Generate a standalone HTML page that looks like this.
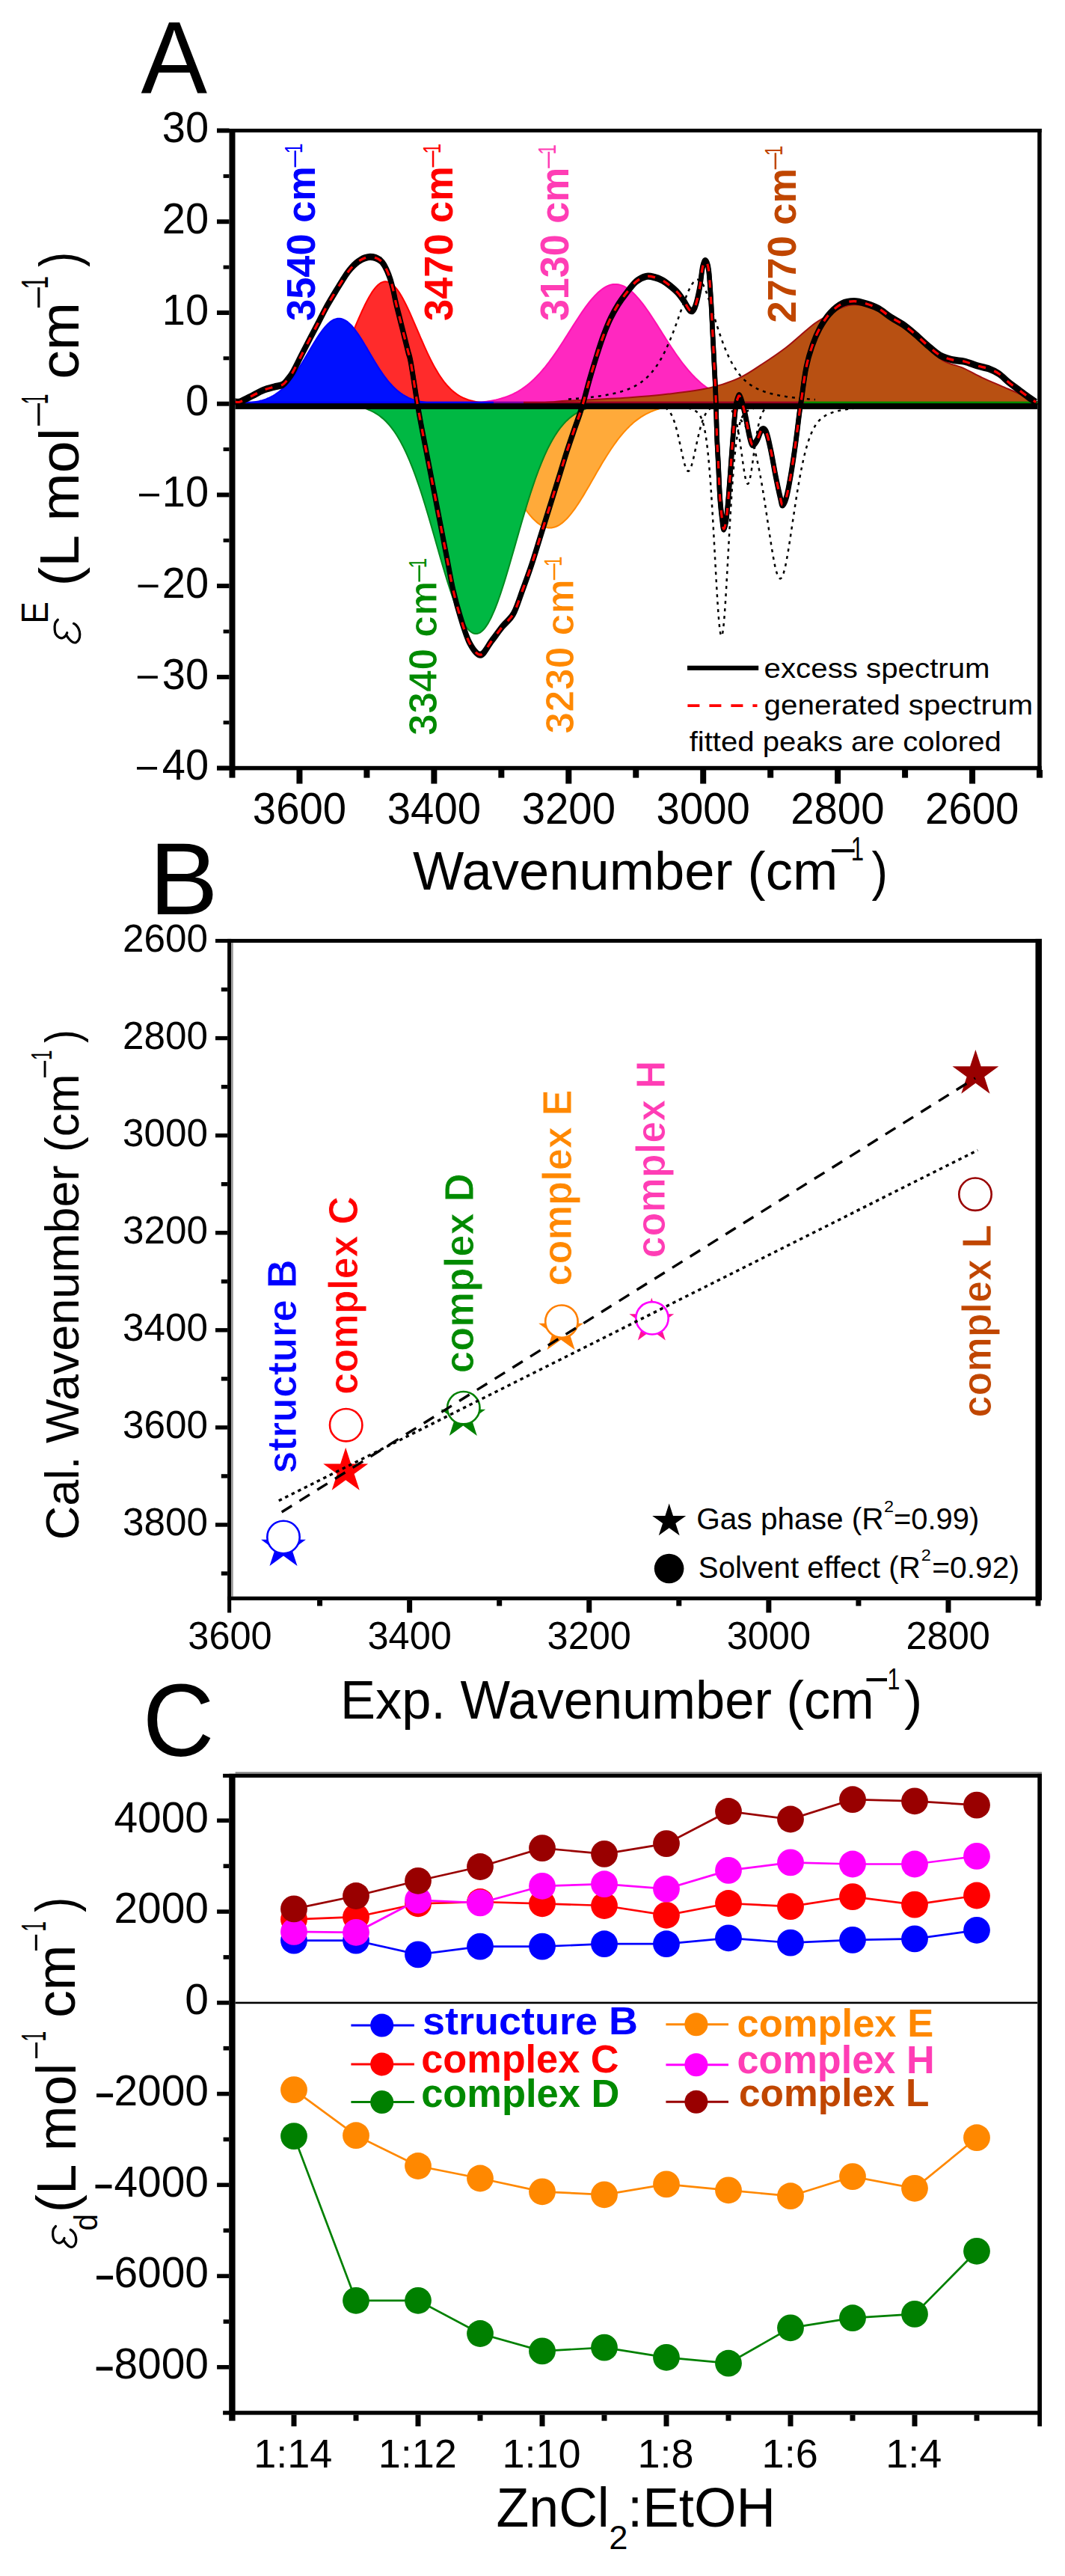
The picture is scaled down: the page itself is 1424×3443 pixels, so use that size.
<!DOCTYPE html>
<html><head><meta charset="utf-8"><style>
html,body{margin:0;padding:0;background:#fff;}
svg{display:block;}
text{font-family:"Liberation Sans",sans-serif;}
</style></head><body>
<svg width="1424" height="3443" viewBox="0 0 1424 3443">
<rect width="1424" height="3443" fill="#fff"/>
<path d="M560.00,539.68 L562.45,539.68 L564.90,539.68 L567.35,539.67 L569.80,539.67 L572.25,539.66 L574.70,539.66 L577.15,539.65 L579.60,539.64 L582.05,539.63 L584.50,539.62 L586.95,539.60 L589.40,539.59 L591.85,539.57 L594.30,539.55 L596.75,539.53 L599.20,539.50 L601.65,539.47 L604.10,539.43 L606.55,539.39 L609.00,539.34 L611.45,539.29 L613.90,539.23 L616.35,539.16 L618.80,539.08 L621.25,538.99 L623.70,538.90 L626.15,538.78 L628.60,538.66 L631.05,538.52 L633.50,538.36 L635.95,538.19 L638.40,537.99 L640.85,537.78 L643.30,537.53 L645.75,537.27 L648.20,536.97 L650.65,536.64 L653.10,536.28 L655.55,535.88 L658.00,535.44 L660.45,534.96 L662.90,534.44 L665.35,533.86 L667.80,533.23 L670.25,532.55 L672.70,531.80 L675.15,531.00 L677.60,530.12 L680.05,529.18 L682.50,528.16 L684.95,527.06 L687.40,525.87 L689.85,524.61 L692.30,523.25 L694.75,521.80 L697.20,520.25 L699.65,518.60 L702.10,516.85 L704.55,514.99 L707.00,513.02 L709.45,510.95 L711.90,508.76 L714.35,506.46 L716.80,504.04 L719.25,501.51 L721.70,498.87 L724.15,496.11 L726.60,493.24 L729.05,490.27 L731.50,487.18 L733.95,484.00 L736.40,480.71 L738.85,477.33 L741.30,473.86 L743.75,470.31 L746.20,466.69 L748.65,463.00 L751.10,459.25 L753.55,455.45 L756.00,451.62 L758.45,447.76 L760.90,443.88 L763.35,440.01 L765.80,436.14 L768.25,432.29 L770.70,428.47 L773.15,424.71 L775.60,421.01 L778.05,417.39 L780.50,413.85 L782.95,410.43 L785.40,407.12 L787.85,403.94 L790.30,400.92 L792.75,398.05 L795.20,395.35 L797.65,392.84 L800.10,390.52 L802.55,388.41 L805.00,386.52 L807.45,384.85 L809.90,383.41 L812.35,382.21 L814.80,381.26 L817.25,380.56 L819.70,380.10 L822.15,379.91 L824.60,379.97 L827.05,380.28 L829.50,380.85 L831.95,381.68 L834.40,382.74 L836.85,384.06 L839.30,385.60 L841.75,387.38 L844.20,389.38 L846.65,391.59 L849.10,393.99 L851.55,396.59 L854.00,399.37 L856.45,402.32 L858.90,405.42 L861.35,408.66 L863.80,412.02 L866.25,415.50 L868.70,419.08 L871.15,422.74 L873.60,426.47 L876.05,430.26 L878.50,434.09 L880.95,437.95 L883.40,441.83 L885.85,445.71 L888.30,449.58 L890.75,453.42 L893.20,457.24 L895.65,461.02 L898.10,464.74 L900.55,468.40 L903.00,471.99 L905.45,475.50 L907.90,478.93 L910.35,482.26 L912.80,485.50 L915.25,488.64 L917.70,491.68 L920.15,494.60 L922.60,497.42 L925.05,500.12 L927.50,502.71 L929.95,505.19 L932.40,507.55 L934.85,509.80 L937.30,511.94 L939.75,513.96 L942.20,515.87 L944.65,517.68 L947.10,519.39 L949.55,520.99 L952.00,522.49 L954.45,523.90 L956.90,525.21 L959.35,526.44 L961.80,527.58 L964.25,528.64 L966.70,529.63 L969.15,530.54 L971.60,531.38 L974.05,532.16 L976.50,532.88 L978.95,533.53 L981.40,534.14 L983.85,534.69 L986.30,535.19 L988.75,535.65 L991.20,536.07 L993.65,536.45 L996.10,536.80 L998.55,537.11 L1001.00,537.40 L1003.45,537.65 L1005.90,537.88 L1008.35,538.09 L1010.80,538.27 L1013.25,538.44 L1015.70,538.59 L1018.15,538.72 L1020.60,538.84 L1023.05,538.94 L1025.50,539.04 L1027.95,539.12 L1030.40,539.19 L1032.85,539.26 L1035.30,539.31 L1037.75,539.37 L1040.20,539.41 L1042.65,539.45 L1045.10,539.48 L1047.55,539.51 L1050.00,539.54 Z" fill="#FF28C0" stroke="#FF10B0" stroke-width="2"/>
<path d="M314.50,539.50 C375.42,539.42 605.75,539.67 680.00,539.00 C754.25,538.33 733.33,536.75 760.00,535.50 C786.67,534.25 817.68,532.98 840.00,531.50 C862.32,530.02 875.62,528.80 893.90,526.60 C912.18,524.40 933.85,521.92 949.70,518.30 C965.55,514.68 977.28,510.28 989.00,504.90 C1000.72,499.52 1009.83,492.62 1020.00,486.00 C1030.17,479.38 1041.72,471.42 1050.00,465.20 C1058.28,458.98 1063.13,454.18 1069.70,448.70 C1076.27,443.22 1083.37,436.68 1089.40,432.30 C1095.43,427.92 1100.42,425.68 1105.90,422.40 C1111.38,419.12 1116.83,415.07 1122.30,412.60 C1127.77,410.13 1132.68,408.15 1138.70,407.60 C1144.72,407.05 1151.28,407.37 1158.40,409.30 C1165.52,411.23 1173.18,414.82 1181.40,419.20 C1189.62,423.58 1198.93,429.03 1207.70,435.60 C1216.47,442.17 1225.23,450.93 1234.00,458.60 C1242.77,466.27 1251.53,476.13 1260.30,481.60 C1269.07,487.07 1277.83,487.57 1286.60,491.40 C1295.37,495.23 1304.13,500.48 1312.90,504.60 C1321.67,508.72 1330.43,512.27 1339.20,516.10 C1347.97,519.93 1358.93,524.03 1365.50,527.60 C1372.07,531.17 1375.02,535.52 1378.60,537.50 C1382.18,539.48 1385.60,539.17 1387.00,539.50 L1387,539.7 L314.5,539.7 Z" fill="#B85012" stroke="#A01010" stroke-width="2"/>
<path d="M330.00,539.69 L331.95,539.69 L333.90,539.68 L335.85,539.68 L337.80,539.68 L339.75,539.67 L341.70,539.66 L343.65,539.66 L345.60,539.65 L347.55,539.64 L349.50,539.63 L351.45,539.61 L353.40,539.59 L355.35,539.57 L357.30,539.55 L359.25,539.52 L361.20,539.49 L363.15,539.45 L365.10,539.41 L367.05,539.35 L369.00,539.29 L370.95,539.22 L372.90,539.14 L374.85,539.05 L376.80,538.94 L378.75,538.82 L380.70,538.68 L382.65,538.52 L384.60,538.34 L386.55,538.13 L388.50,537.90 L390.45,537.63 L392.40,537.33 L394.35,537.00 L396.30,536.62 L398.25,536.19 L400.20,535.72 L402.15,535.19 L404.10,534.60 L406.05,533.95 L408.00,533.23 L409.95,532.44 L411.90,531.56 L413.85,530.60 L415.80,529.54 L417.75,528.38 L419.70,527.13 L421.65,525.76 L423.60,524.27 L425.55,522.67 L427.50,520.93 L429.45,519.06 L431.40,517.06 L433.35,514.91 L435.30,512.62 L437.25,510.18 L439.20,507.58 L441.15,504.84 L443.10,501.93 L445.05,498.88 L447.00,495.66 L448.95,492.30 L450.90,488.79 L452.85,485.14 L454.80,481.34 L456.75,477.42 L458.70,473.37 L460.65,469.21 L462.60,464.95 L464.55,460.59 L466.50,456.17 L468.45,451.68 L470.40,447.14 L472.35,442.58 L474.30,438.02 L476.25,433.46 L478.20,428.93 L480.15,424.46 L482.10,420.06 L484.05,415.76 L486.00,411.57 L487.95,407.53 L489.90,403.64 L491.85,399.94 L493.80,396.45 L495.75,393.17 L497.70,390.15 L499.65,387.38 L501.60,384.89 L503.55,382.69 L505.50,380.80 L507.45,379.23 L509.40,377.99 L511.35,377.08 L513.30,376.52 L515.25,376.30 L517.20,376.43 L519.15,376.91 L521.10,377.73 L523.05,378.88 L525.00,380.37 L526.95,382.18 L528.90,384.30 L530.85,386.71 L532.80,389.41 L534.75,392.37 L536.70,395.59 L538.65,399.03 L540.60,402.68 L542.55,406.52 L544.50,410.52 L546.45,414.67 L548.40,418.95 L550.35,423.33 L552.30,427.78 L554.25,432.30 L556.20,436.85 L558.15,441.41 L560.10,445.98 L562.05,450.52 L564.00,455.02 L565.95,459.46 L567.90,463.84 L569.85,468.12 L571.80,472.31 L573.75,476.39 L575.70,480.35 L577.65,484.18 L579.60,487.87 L581.55,491.42 L583.50,494.82 L585.45,498.07 L587.40,501.16 L589.35,504.11 L591.30,506.89 L593.25,509.53 L595.20,512.01 L597.15,514.34 L599.10,516.52 L601.05,518.56 L603.00,520.46 L604.95,522.23 L606.90,523.87 L608.85,525.39 L610.80,526.79 L612.75,528.07 L614.70,529.25 L616.65,530.33 L618.60,531.32 L620.55,532.22 L622.50,533.03 L624.45,533.77 L626.40,534.44 L628.35,535.05 L630.30,535.59 L632.25,536.08 L634.20,536.51 L636.15,536.90 L638.10,537.25 L640.05,537.56 L642.00,537.83 L643.95,538.07 L645.90,538.29 L647.85,538.48 L649.80,538.64 L651.75,538.79 L653.70,538.91 L655.65,539.02 L657.60,539.12 L659.55,539.20 L661.50,539.28 L663.45,539.34 L665.40,539.39 L667.35,539.44 L669.30,539.48 L671.25,539.51 L673.20,539.54 L675.15,539.57 L677.10,539.59 L679.05,539.61 L681.00,539.62 L682.95,539.64 L684.90,539.65 L686.85,539.66 L688.80,539.66 L690.75,539.67 L692.70,539.67 L694.65,539.68 L696.60,539.68 L698.55,539.69 L700.50,539.69 L702.45,539.69 L704.40,539.69 L706.35,539.69 L708.30,539.69 L710.25,539.70 L712.20,539.70 L714.15,539.70 L716.10,539.70 L718.05,539.70 L720.00,539.70 Z" fill="#FF2B2B" stroke="#FF0000" stroke-width="2"/>
<path d="M314.50,539.37 L316.13,539.33 L317.75,539.27 L319.38,539.21 L321.01,539.14 L322.64,539.06 L324.26,538.98 L325.89,538.88 L327.52,538.77 L329.15,538.65 L330.77,538.51 L332.40,538.36 L334.03,538.19 L335.66,538.00 L337.29,537.79 L338.91,537.56 L340.54,537.30 L342.17,537.02 L343.80,536.71 L345.42,536.37 L347.05,536.00 L348.68,535.59 L350.31,535.15 L351.93,534.67 L353.56,534.14 L355.19,533.57 L356.81,532.95 L358.44,532.27 L360.07,531.55 L361.70,530.77 L363.32,529.93 L364.95,529.03 L366.58,528.06 L368.21,527.03 L369.83,525.93 L371.46,524.75 L373.09,523.50 L374.72,522.18 L376.35,520.78 L377.97,519.30 L379.60,517.74 L381.23,516.09 L382.86,514.37 L384.48,512.56 L386.11,510.67 L387.74,508.70 L389.37,506.65 L390.99,504.52 L392.62,502.32 L394.25,500.04 L395.88,497.69 L397.50,495.27 L399.13,492.79 L400.76,490.25 L402.38,487.65 L404.01,485.01 L405.64,482.33 L407.27,479.61 L408.89,476.86 L410.52,474.10 L412.15,471.32 L413.78,468.55 L415.40,465.77 L417.03,463.02 L418.66,460.29 L420.29,457.60 L421.92,454.95 L423.54,452.35 L425.17,449.83 L426.80,447.38 L428.43,445.01 L430.05,442.74 L431.68,440.58 L433.31,438.53 L434.94,436.61 L436.56,434.82 L438.19,433.17 L439.82,431.67 L441.44,430.32 L443.07,429.14 L444.70,428.13 L446.33,427.28 L447.96,426.62 L449.58,426.13 L451.21,425.82 L452.84,425.70 L454.47,425.76 L456.09,426.01 L457.72,426.44 L459.35,427.05 L460.98,427.83 L462.60,428.80 L464.23,429.92 L465.86,431.22 L467.49,432.67 L469.11,434.27 L470.74,436.02 L472.37,437.90 L474.00,439.91 L475.62,442.03 L477.25,444.27 L478.88,446.60 L480.50,449.03 L482.13,451.53 L483.76,454.10 L485.39,456.74 L487.01,459.42 L488.64,462.14 L490.27,464.88 L491.90,467.65 L493.52,470.43 L495.15,473.20 L496.78,475.97 L498.41,478.73 L500.03,481.45 L501.66,484.15 L503.29,486.80 L504.92,489.41 L506.54,491.97 L508.17,494.47 L509.80,496.91 L511.43,499.29 L513.06,501.59 L514.68,503.82 L516.31,505.97 L517.94,508.05 L519.57,510.05 L521.19,511.96 L522.82,513.79 L524.45,515.55 L526.08,517.21 L527.70,518.80 L529.33,520.31 L530.96,521.74 L532.59,523.08 L534.21,524.36 L535.84,525.56 L537.47,526.68 L539.10,527.74 L540.72,528.72 L542.35,529.65 L543.98,530.50 L545.61,531.30 L547.23,532.05 L548.86,532.73 L550.49,533.37 L552.12,533.96 L553.74,534.50 L555.37,535.00 L557.00,535.46 L558.62,535.87 L560.25,536.26 L561.88,536.61 L563.51,536.93 L565.13,537.22 L566.76,537.48 L568.39,537.72 L570.02,537.93 L571.64,538.13 L573.27,538.30 L574.90,538.46 L576.53,538.60 L578.15,538.73 L579.78,538.84 L581.41,538.95 L583.04,539.04 L584.66,539.12 L586.29,539.19 L587.92,539.25 L589.55,539.31 L591.17,539.36 L592.80,539.40 L594.43,539.44 L596.06,539.48 L597.68,539.51 L599.31,539.53 L600.94,539.55 L602.57,539.57 L604.19,539.59 L605.82,539.61 L607.45,539.62 L609.08,539.63 L610.70,539.64 L612.33,539.65 L613.96,539.66 L615.59,539.66 L617.21,539.67 L618.84,539.67 L620.47,539.68 L622.10,539.68 L623.73,539.68 L625.35,539.69 L626.98,539.69 L628.61,539.69 L630.24,539.69 L631.86,539.69 L633.49,539.69 L635.12,539.70 L636.75,539.70 L638.37,539.70 L640.00,539.70 Z" fill="#0010FF" stroke="#0000FF" stroke-width="2"/>
<path d="M540.00,540.23 L542.10,540.30 L544.20,540.38 L546.30,540.46 L548.40,540.56 L550.50,540.66 L552.60,540.78 L554.70,540.92 L556.80,541.06 L558.90,541.22 L561.00,541.40 L563.10,541.60 L565.20,541.82 L567.30,542.06 L569.40,542.32 L571.50,542.61 L573.60,542.92 L575.70,543.27 L577.80,543.64 L579.90,544.06 L582.00,544.50 L584.10,544.99 L586.20,545.52 L588.30,546.09 L590.40,546.70 L592.50,547.37 L594.60,548.09 L596.70,548.87 L598.80,549.70 L600.90,550.60 L603.00,551.56 L605.10,552.58 L607.20,553.68 L609.30,554.85 L611.40,556.10 L613.50,557.43 L615.60,558.83 L617.70,560.33 L619.80,561.91 L621.90,563.57 L624.00,565.33 L626.10,567.19 L628.20,569.13 L630.30,571.18 L632.40,573.32 L634.50,575.56 L636.60,577.89 L638.70,580.33 L640.80,582.86 L642.90,585.49 L645.00,588.22 L647.10,591.04 L649.20,593.95 L651.30,596.95 L653.40,600.04 L655.50,603.20 L657.60,606.45 L659.70,609.77 L661.80,613.15 L663.90,616.60 L666.00,620.10 L668.10,623.65 L670.20,627.24 L672.30,630.86 L674.40,634.51 L676.50,638.17 L678.60,641.83 L680.70,645.50 L682.80,649.14 L684.90,652.77 L687.00,656.35 L689.10,659.89 L691.20,663.38 L693.30,666.80 L695.40,670.13 L697.50,673.38 L699.60,676.53 L701.70,679.56 L703.80,682.47 L705.90,685.25 L708.00,687.89 L710.10,690.37 L712.20,692.69 L714.30,694.84 L716.40,696.81 L718.50,698.60 L720.60,700.19 L722.70,701.58 L724.80,702.77 L726.90,703.75 L729.00,704.51 L731.10,705.06 L733.20,705.39 L735.30,705.50 L737.40,705.39 L739.50,705.06 L741.60,704.51 L743.70,703.75 L745.80,702.77 L747.90,701.58 L750.00,700.19 L752.10,698.60 L754.20,696.81 L756.30,694.84 L758.40,692.69 L760.50,690.37 L762.60,687.89 L764.70,685.25 L766.80,682.47 L768.90,679.56 L771.00,676.53 L773.10,673.38 L775.20,670.13 L777.30,666.80 L779.40,663.38 L781.50,659.89 L783.60,656.35 L785.70,652.77 L787.80,649.14 L789.90,645.50 L792.00,641.83 L794.10,638.17 L796.20,634.51 L798.30,630.86 L800.40,627.24 L802.50,623.65 L804.60,620.10 L806.70,616.60 L808.80,613.15 L810.90,609.77 L813.00,606.45 L815.10,603.20 L817.20,600.04 L819.30,596.95 L821.40,593.95 L823.50,591.04 L825.60,588.22 L827.70,585.49 L829.80,582.86 L831.90,580.33 L834.00,577.89 L836.10,575.56 L838.20,573.32 L840.30,571.18 L842.40,569.13 L844.50,567.19 L846.60,565.33 L848.70,563.57 L850.80,561.91 L852.90,560.33 L855.00,558.83 L857.10,557.43 L859.20,556.10 L861.30,554.85 L863.40,553.68 L865.50,552.58 L867.60,551.56 L869.70,550.60 L871.80,549.70 L873.90,548.87 L876.00,548.09 L878.10,547.37 L880.20,546.70 L882.30,546.09 L884.40,545.52 L886.50,544.99 L888.60,544.50 L890.70,544.06 L892.80,543.64 L894.90,543.27 L897.00,542.92 L899.10,542.61 L901.20,542.32 L903.30,542.06 L905.40,541.82 L907.50,541.60 L909.60,541.40 L911.70,541.22 L913.80,541.06 L915.90,540.92 L918.00,540.78 L920.10,540.66 L922.20,540.56 L924.30,540.46 L926.40,540.38 L928.50,540.30 L930.60,540.23 L932.70,540.17 L934.80,540.11 L936.90,540.06 L939.00,540.02 L941.10,539.98 L943.20,539.95 L945.30,539.92 L947.40,539.89 L949.50,539.86 L951.60,539.84 L953.70,539.83 L955.80,539.81 L957.90,539.79 L960.00,539.78 Z" fill="#FFAA3A" stroke="#FF8800" stroke-width="2"/>
<path d="M430.00,539.86 L432.10,539.89 L434.20,539.92 L436.30,539.95 L438.40,539.99 L440.50,540.04 L442.60,540.09 L444.70,540.15 L446.80,540.22 L448.90,540.30 L451.00,540.39 L453.10,540.49 L455.20,540.61 L457.30,540.74 L459.40,540.89 L461.50,541.05 L463.60,541.24 L465.70,541.45 L467.80,541.69 L469.90,541.95 L472.00,542.25 L474.10,542.58 L476.20,542.95 L478.30,543.35 L480.40,543.81 L482.50,544.31 L484.60,544.86 L486.70,545.48 L488.80,546.16 L490.90,546.90 L493.00,547.72 L495.10,548.61 L497.20,549.60 L499.30,550.67 L501.40,551.84 L503.50,553.11 L505.60,554.49 L507.70,556.00 L509.80,557.62 L511.90,559.38 L514.00,561.27 L516.10,563.31 L518.20,565.51 L520.30,567.86 L522.40,570.38 L524.50,573.07 L526.60,575.94 L528.70,579.00 L530.80,582.25 L532.90,585.70 L535.00,589.34 L537.10,593.20 L539.20,597.26 L541.30,601.53 L543.40,606.02 L545.50,610.72 L547.60,615.63 L549.70,620.76 L551.80,626.10 L553.90,631.65 L556.00,637.40 L558.10,643.34 L560.20,649.48 L562.30,655.80 L564.40,662.29 L566.50,668.95 L568.60,675.75 L570.70,682.68 L572.80,689.73 L574.90,696.89 L577.00,704.13 L579.10,711.43 L581.20,718.78 L583.30,726.15 L585.40,733.52 L587.50,740.86 L589.60,748.16 L591.70,755.39 L593.80,762.51 L595.90,769.52 L598.00,776.37 L600.10,783.05 L602.20,789.52 L604.30,795.76 L606.40,801.75 L608.50,807.47 L610.60,812.87 L612.70,817.96 L614.80,822.69 L616.90,827.06 L619.00,831.03 L621.10,834.60 L623.20,837.75 L625.30,840.46 L627.40,842.72 L629.50,844.52 L631.60,845.85 L633.70,846.70 L635.80,847.08 L637.90,846.98 L640.00,846.39 L642.10,845.33 L644.20,843.80 L646.30,841.80 L648.40,839.35 L650.50,836.45 L652.60,833.12 L654.70,829.38 L656.80,825.23 L658.90,820.71 L661.00,815.82 L663.10,810.60 L665.20,805.05 L667.30,799.22 L669.40,793.12 L671.50,786.77 L673.60,780.21 L675.70,773.45 L677.80,766.53 L679.90,759.47 L682.00,752.30 L684.10,745.04 L686.20,737.72 L688.30,730.36 L690.40,722.99 L692.50,715.62 L694.60,708.29 L696.70,701.02 L698.80,693.81 L700.90,686.70 L703.00,679.69 L705.10,672.81 L707.20,666.08 L709.30,659.49 L711.40,653.07 L713.50,646.83 L715.60,640.77 L717.70,634.91 L719.80,629.24 L721.90,623.78 L724.00,618.54 L726.10,613.50 L728.20,608.68 L730.30,604.07 L732.40,599.67 L734.50,595.49 L736.60,591.52 L738.70,587.75 L740.80,584.19 L742.90,580.83 L745.00,577.67 L747.10,574.69 L749.20,571.90 L751.30,569.28 L753.40,566.83 L755.50,564.55 L757.60,562.42 L759.70,560.44 L761.80,558.61 L763.90,556.91 L766.00,555.34 L768.10,553.89 L770.20,552.55 L772.30,551.32 L774.40,550.20 L776.50,549.16 L778.60,548.22 L780.70,547.36 L782.80,546.57 L784.90,545.86 L787.00,545.21 L789.10,544.62 L791.20,544.09 L793.30,543.61 L795.40,543.17 L797.50,542.78 L799.60,542.43 L801.70,542.12 L803.80,541.84 L805.90,541.58 L808.00,541.36 L810.10,541.16 L812.20,540.98 L814.30,540.82 L816.40,540.68 L818.50,540.56 L820.60,540.45 L822.70,540.35 L824.80,540.27 L826.90,540.19 L829.00,540.13 L831.10,540.07 L833.20,540.02 L835.30,539.98 L837.40,539.94 L839.50,539.90 L841.60,539.88 L843.70,539.85 L845.80,539.83 L847.90,539.81 L850.00,539.79 Z" fill="#00B843" stroke="#008A20" stroke-width="2"/>
<path d="M760.00,533.59 L761.10,533.51 L762.20,533.44 L763.30,533.36 L764.40,533.28 L765.50,533.20 L766.60,533.12 L767.70,533.03 L768.80,532.95 L769.90,532.86 L771.00,532.77 L772.10,532.68 L773.20,532.59 L774.30,532.50 L775.40,532.40 L776.50,532.31 L777.60,532.21 L778.70,532.11 L779.80,532.00 L780.90,531.90 L782.00,531.79 L783.10,531.68 L784.20,531.57 L785.30,531.45 L786.40,531.34 L787.50,531.22 L788.60,531.10 L789.70,530.97 L790.80,530.85 L791.90,530.72 L793.00,530.58 L794.10,530.45 L795.20,530.31 L796.30,530.17 L797.40,530.03 L798.50,529.88 L799.60,529.73 L800.70,529.57 L801.80,529.41 L802.90,529.25 L804.00,529.09 L805.10,528.92 L806.20,528.74 L807.30,528.56 L808.40,528.38 L809.50,528.19 L810.60,528.00 L811.70,527.80 L812.80,527.60 L813.90,527.39 L815.00,527.18 L816.10,526.96 L817.20,526.74 L818.30,526.51 L819.40,526.27 L820.50,526.02 L821.60,525.77 L822.70,525.51 L823.80,525.25 L824.90,524.97 L826.00,524.69 L827.10,524.40 L828.20,524.10 L829.30,523.79 L830.40,523.47 L831.50,523.14 L832.60,522.80 L833.70,522.44 L834.80,522.08 L835.90,521.70 L837.00,521.31 L838.10,520.91 L839.20,520.49 L840.30,520.06 L841.40,519.61 L842.50,519.14 L843.60,518.66 L844.70,518.16 L845.80,517.64 L846.90,517.10 L848.00,516.54 L849.10,515.96 L850.20,515.36 L851.30,514.73 L852.40,514.08 L853.50,513.40 L854.60,512.70 L855.70,511.97 L856.80,511.21 L857.90,510.42 L859.00,509.59 L860.10,508.74 L861.20,507.85 L862.30,506.92 L863.40,505.96 L864.50,504.96 L865.60,503.92 L866.70,502.84 L867.80,501.71 L868.90,500.55 L870.00,499.33 L871.10,498.07 L872.20,496.77 L873.30,495.41 L874.40,494.00 L875.50,492.54 L876.60,491.03 L877.70,489.46 L878.80,487.83 L879.90,486.15 L881.00,484.40 L882.10,482.60 L883.20,480.74 L884.30,478.81 L885.40,476.82 L886.50,474.77 L887.60,472.65 L888.70,470.46 L889.80,468.22 L890.90,465.90 L892.00,463.52 L893.10,461.08 L894.20,458.57 L895.30,455.99 L896.40,453.36 L897.50,450.66 L898.60,447.90 L899.70,445.09 L900.80,442.22 L901.90,439.30 L903.00,436.34 L904.10,433.33 L905.20,430.29 L906.30,427.21 L907.40,424.12 L908.50,421.01 L909.60,417.89 L910.70,414.77 L911.80,411.66 L912.90,408.59 L914.00,405.54 L915.10,402.55 L916.20,399.62 L917.30,396.77 L918.40,394.01 L919.50,391.36 L920.60,388.84 L921.70,386.46 L922.80,384.24 L923.90,382.20 L925.00,380.34 L926.10,378.69 L927.20,377.26 L928.30,376.05 L929.40,375.09 L930.50,374.37 L931.60,373.91 L932.70,373.71 L933.80,373.79 L934.90,374.21 L936.00,374.98 L937.10,376.07 L938.20,377.48 L939.30,379.20 L940.40,381.20 L941.50,383.45 L942.60,385.95 L943.70,388.67 L944.80,391.57 L945.90,394.64 L947.00,397.85 L948.10,401.18 L949.20,404.60 L950.30,408.09 L951.40,411.63 L952.50,415.21 L953.60,418.80 L954.70,422.39 L955.80,425.96 L956.90,429.51 L958.00,433.02 L959.10,436.48 L960.20,439.89 L961.30,443.24 L962.40,446.51 L963.50,449.71 L964.60,452.84 L965.70,455.88 L966.80,458.85 L967.90,461.72 L969.00,464.51 L970.10,467.22 L971.20,469.83 L972.30,472.36 L973.40,474.81 L974.50,477.16 L975.60,479.44 L976.70,481.63 L977.80,483.73 L978.90,485.76 L980.00,487.71 L981.10,489.58 L982.20,491.38 L983.30,493.11 L984.40,494.76 L985.50,496.35 L986.60,497.87 L987.70,499.32 L988.80,500.71 L989.90,502.05 L991.00,503.32 L992.10,504.54 L993.20,505.71 L994.30,506.82 L995.40,507.89 L996.50,508.91 L997.60,509.89 L998.70,510.82 L999.80,511.71 L1000.90,512.56 L1002.00,513.38 L1003.10,514.15 L1004.20,514.90 L1005.30,515.61 L1006.40,516.29 L1007.50,516.95 L1008.60,517.57 L1009.70,518.17 L1010.80,518.75 L1011.90,519.30 L1013.00,519.82 L1014.10,520.33 L1015.20,520.82 L1016.30,521.28 L1017.40,521.73 L1018.50,522.17 L1019.60,522.58 L1020.70,522.98 L1021.80,523.37 L1022.90,523.74 L1024.00,524.10 L1025.10,524.44 L1026.20,524.77 L1027.30,525.10 L1028.40,525.41 L1029.50,525.71 L1030.60,526.00 L1031.70,526.28 L1032.80,526.55 L1033.90,526.82 L1035.00,527.07 L1036.10,527.32 L1037.20,527.56 L1038.30,527.80 L1039.40,528.02 L1040.50,528.24 L1041.60,528.46 L1042.70,528.66 L1043.80,528.87 L1044.90,529.06 L1046.00,529.25 L1047.10,529.44 L1048.20,529.62 L1049.30,529.80 L1050.40,529.97 L1051.50,530.14 L1052.60,530.30 L1053.70,530.46 L1054.80,530.62 L1055.90,530.77 L1057.00,530.91 L1058.10,531.06 L1059.20,531.20 L1060.30,531.34 L1061.40,531.47 L1062.50,531.60 L1063.60,531.73 L1064.70,531.85 L1065.80,531.98 L1066.90,532.10 L1068.00,532.21 L1069.10,532.33 L1070.20,532.44 L1071.30,532.55 L1072.40,532.65 L1073.50,532.76 L1074.60,532.86 L1075.70,532.96 L1076.80,533.06 L1077.90,533.15 L1079.00,533.25 L1080.10,533.34 L1081.20,533.43 L1082.30,533.51 L1083.40,533.60 L1084.50,533.68 L1085.60,533.77 L1086.70,533.85 L1087.80,533.93 L1088.90,534.00 L1090.00,534.08" fill="none" stroke="#000" stroke-width="2.5" stroke-dasharray="4,6"/>
<path d="M880.00,542.33 L880.27,542.36 L880.53,542.40 L880.80,542.44 L881.07,542.49 L881.33,542.53 L881.60,542.57 L881.87,542.62 L882.13,542.67 L882.40,542.72 L882.67,542.77 L882.93,542.82 L883.20,542.88 L883.47,542.93 L883.73,542.99 L884.00,543.05 L884.27,543.12 L884.53,543.18 L884.80,543.25 L885.07,543.32 L885.33,543.40 L885.60,543.47 L885.87,543.56 L886.13,543.64 L886.40,543.73 L886.67,543.82 L886.93,543.91 L887.20,544.01 L887.47,544.12 L887.73,544.22 L888.00,544.34 L888.27,544.45 L888.53,544.58 L888.80,544.71 L889.07,544.84 L889.33,544.98 L889.60,545.13 L889.87,545.28 L890.13,545.44 L890.40,545.60 L890.67,545.78 L890.93,545.96 L891.20,546.15 L891.47,546.34 L891.73,546.55 L892.00,546.76 L892.27,546.99 L892.53,547.22 L892.80,547.46 L893.07,547.72 L893.33,547.98 L893.60,548.26 L893.87,548.55 L894.13,548.84 L894.40,549.16 L894.67,549.48 L894.93,549.82 L895.20,550.17 L895.47,550.53 L895.73,550.91 L896.00,551.30 L896.27,551.71 L896.53,552.13 L896.80,552.57 L897.07,553.02 L897.33,553.49 L897.60,553.98 L897.87,554.48 L898.13,555.01 L898.40,555.55 L898.67,556.10 L898.93,556.68 L899.20,557.28 L899.47,557.89 L899.73,558.52 L900.00,559.18 L900.27,559.85 L900.53,560.54 L900.80,561.25 L901.07,561.98 L901.33,562.74 L901.60,563.51 L901.87,564.30 L902.13,565.12 L902.40,565.95 L902.67,566.81 L902.93,567.68 L903.20,568.58 L903.47,569.49 L903.73,570.43 L904.00,571.38 L904.27,572.36 L904.53,573.35 L904.80,574.37 L905.07,575.40 L905.33,576.45 L905.60,577.52 L905.87,578.60 L906.13,579.70 L906.40,580.82 L906.67,581.95 L906.93,583.10 L907.20,584.26 L907.47,585.44 L907.73,586.62 L908.00,587.82 L908.27,589.03 L908.53,590.25 L908.80,591.47 L909.07,592.70 L909.33,593.94 L909.60,595.19 L909.87,596.44 L910.13,597.69 L910.40,598.94 L910.67,600.19 L910.93,601.43 L911.20,602.68 L911.47,603.92 L911.73,605.15 L912.00,606.37 L912.27,607.59 L912.53,608.79 L912.80,609.98 L913.07,611.15 L913.33,612.30 L913.60,613.44 L913.87,614.55 L914.13,615.64 L914.40,616.71 L914.67,617.74 L914.93,618.75 L915.20,619.72 L915.47,620.66 L915.73,621.57 L916.00,622.44 L916.27,623.26 L916.53,624.05 L916.80,624.79 L917.07,625.48 L917.33,626.13 L917.60,626.73 L917.87,627.27 L918.13,627.77 L918.40,628.21 L918.67,628.59 L918.93,628.92 L919.20,629.20 L919.47,629.41 L919.73,629.57 L920.00,629.66 L920.27,629.70 L920.53,629.68 L920.80,629.60 L921.07,629.45 L921.33,629.26 L921.60,629.00 L921.87,628.68 L922.13,628.31 L922.40,627.88 L922.67,627.40 L922.93,626.87 L923.20,626.28 L923.47,625.65 L923.73,624.97 L924.00,624.24 L924.27,623.46 L924.53,622.65 L924.80,621.79 L925.07,620.89 L925.33,619.96 L925.60,619.00 L925.87,618.00 L926.13,616.97 L926.40,615.91 L926.67,614.83 L926.93,613.72 L927.20,612.59 L927.47,611.44 L927.73,610.27 L928.00,609.09 L928.27,607.89 L928.53,606.68 L928.80,605.46 L929.07,604.23 L929.33,602.99 L929.60,601.75 L929.87,600.50 L930.13,599.25 L930.40,598.00 L930.67,596.75 L930.93,595.50 L931.20,594.25 L931.47,593.01 L931.73,591.78 L932.00,590.55 L932.27,589.33 L932.53,588.12 L932.80,586.92 L933.07,585.73 L933.33,584.55 L933.60,583.39 L933.87,582.24 L934.13,581.10 L934.40,579.98 L934.67,578.88 L934.93,577.79 L935.20,576.71 L935.47,575.66 L935.73,574.62 L936.00,573.61 L936.27,572.61 L936.53,571.63 L936.80,570.67 L937.07,569.73 L937.33,568.80 L937.60,567.90 L937.87,567.02 L938.13,566.16 L938.40,565.32 L938.67,564.50 L938.93,563.71 L939.20,562.93 L939.47,562.17 L939.73,561.43 L940.00,560.72 L940.27,560.02 L940.53,559.34 L940.80,558.68 L941.07,558.05 L941.33,557.43 L941.60,556.83 L941.87,556.25 L942.13,555.68 L942.40,555.14 L942.67,554.61 L942.93,554.10 L943.20,553.61 L943.47,553.14 L943.73,552.68 L944.00,552.24 L944.27,551.81 L944.53,551.40 L944.80,551.00 L945.07,550.62 L945.33,550.26 L945.60,549.90 L945.87,549.56 L946.13,549.24 L946.40,548.92 L946.67,548.62 L946.93,548.33 L947.20,548.05 L947.47,547.78 L947.73,547.53 L948.00,547.28 L948.27,547.05 L948.53,546.82 L948.80,546.60 L949.07,546.39 L949.33,546.19 L949.60,546.00 L949.87,545.82 L950.13,545.65 L950.40,545.48 L950.67,545.32 L950.93,545.16 L951.20,545.02 L951.47,544.87 L951.73,544.74 L952.00,544.61 L952.27,544.48 L952.53,544.37 L952.80,544.25 L953.07,544.14 L953.33,544.04 L953.60,543.94 L953.87,543.84 L954.13,543.75 L954.40,543.66 L954.67,543.58 L954.93,543.49 L955.20,543.42 L955.47,543.34 L955.73,543.27 L956.00,543.20 L956.27,543.13 L956.53,543.07 L956.80,543.01 L957.07,542.95 L957.33,542.89 L957.60,542.83 L957.87,542.78 L958.13,542.73 L958.40,542.68 L958.67,542.63 L958.93,542.58 L959.20,542.54 L959.47,542.50 L959.73,542.45 L960.00,542.41" fill="none" stroke="#000" stroke-width="2.5" stroke-dasharray="4,6"/>
<path d="M920.00,545.49 L920.30,545.56 L920.60,545.64 L920.90,545.71 L921.20,545.79 L921.50,545.87 L921.80,545.96 L922.10,546.04 L922.40,546.13 L922.70,546.22 L923.00,546.31 L923.30,546.40 L923.60,546.49 L923.90,546.59 L924.20,546.69 L924.50,546.79 L924.80,546.89 L925.10,547.00 L925.40,547.11 L925.70,547.22 L926.00,547.34 L926.30,547.46 L926.60,547.58 L926.90,547.71 L927.20,547.84 L927.50,547.98 L927.80,548.12 L928.10,548.26 L928.40,548.41 L928.70,548.57 L929.00,548.73 L929.30,548.89 L929.60,549.07 L929.90,549.25 L930.20,549.44 L930.50,549.63 L930.80,549.84 L931.10,550.05 L931.40,550.27 L931.70,550.51 L932.00,550.75 L932.30,551.01 L932.60,551.27 L932.90,551.55 L933.20,551.85 L933.50,552.16 L933.80,552.49 L934.10,552.83 L934.40,553.19 L934.70,553.57 L935.00,553.97 L935.30,554.40 L935.60,554.85 L935.90,555.32 L936.20,555.82 L936.50,556.34 L936.80,556.90 L937.10,557.48 L937.40,558.10 L937.70,558.76 L938.00,559.45 L938.30,560.18 L938.60,560.95 L938.90,561.77 L939.20,562.63 L939.50,563.54 L939.80,564.50 L940.10,565.51 L940.40,566.58 L940.70,567.70 L941.00,568.89 L941.30,570.14 L941.60,571.45 L941.90,572.83 L942.20,574.29 L942.50,575.82 L942.80,577.42 L943.10,579.10 L943.40,580.87 L943.70,582.72 L944.00,584.66 L944.30,586.69 L944.60,588.81 L944.90,591.03 L945.20,593.34 L945.50,595.76 L945.80,598.27 L946.10,600.90 L946.40,603.62 L946.70,606.46 L947.00,609.40 L947.30,612.46 L947.60,615.63 L947.90,618.91 L948.20,622.30 L948.50,625.81 L948.80,629.43 L949.10,633.17 L949.40,637.02 L949.70,640.99 L950.00,645.06 L950.30,649.25 L950.60,653.54 L950.90,657.95 L951.20,662.45 L951.50,667.06 L951.80,671.77 L952.10,676.57 L952.40,681.46 L952.70,686.43 L953.00,691.49 L953.30,696.62 L953.60,701.82 L953.90,707.08 L954.20,712.40 L954.50,717.77 L954.80,723.18 L955.10,728.62 L955.40,734.09 L955.70,739.57 L956.00,745.05 L956.30,750.53 L956.60,756.00 L956.90,761.43 L957.20,766.83 L957.50,772.18 L957.80,777.47 L958.10,782.68 L958.40,787.80 L958.70,792.81 L959.00,797.71 L959.30,802.48 L959.60,807.11 L959.90,811.57 L960.20,815.86 L960.50,819.95 L960.80,823.85 L961.10,827.52 L961.40,830.96 L961.70,834.16 L962.00,837.09 L962.30,839.75 L962.60,842.13 L962.90,844.21 L963.20,845.99 L963.50,847.46 L963.80,848.61 L964.10,849.44 L964.40,849.93 L964.70,850.10 L965.00,849.93 L965.30,849.44 L965.60,848.61 L965.90,847.46 L966.20,845.99 L966.50,844.21 L966.80,842.13 L967.10,839.75 L967.40,837.09 L967.70,834.16 L968.00,830.96 L968.30,827.52 L968.60,823.85 L968.90,819.95 L969.20,815.86 L969.50,811.57 L969.80,807.11 L970.10,802.48 L970.40,797.71 L970.70,792.81 L971.00,787.80 L971.30,782.68 L971.60,777.47 L971.90,772.18 L972.20,766.83 L972.50,761.43 L972.80,756.00 L973.10,750.53 L973.40,745.05 L973.70,739.57 L974.00,734.09 L974.30,728.62 L974.60,723.18 L974.90,717.77 L975.20,712.40 L975.50,707.08 L975.80,701.82 L976.10,696.62 L976.40,691.49 L976.70,686.43 L977.00,681.46 L977.30,676.57 L977.60,671.77 L977.90,667.06 L978.20,662.45 L978.50,657.95 L978.80,653.54 L979.10,649.25 L979.40,645.06 L979.70,640.99 L980.00,637.02 L980.30,633.17 L980.60,629.43 L980.90,625.81 L981.20,622.30 L981.50,618.91 L981.80,615.63 L982.10,612.46 L982.40,609.40 L982.70,606.46 L983.00,603.62 L983.30,600.90 L983.60,598.27 L983.90,595.76 L984.20,593.34 L984.50,591.03 L984.80,588.81 L985.10,586.69 L985.40,584.66 L985.70,582.72 L986.00,580.87 L986.30,579.10 L986.60,577.42 L986.90,575.82 L987.20,574.29 L987.50,572.83 L987.80,571.45 L988.10,570.14 L988.40,568.89 L988.70,567.70 L989.00,566.58 L989.30,565.51 L989.60,564.50 L989.90,563.54 L990.20,562.63 L990.50,561.77 L990.80,560.95 L991.10,560.18 L991.40,559.45 L991.70,558.76 L992.00,558.10 L992.30,557.48 L992.60,556.90 L992.90,556.34 L993.20,555.82 L993.50,555.32 L993.80,554.85 L994.10,554.40 L994.40,553.97 L994.70,553.57 L995.00,553.19 L995.30,552.83 L995.60,552.49 L995.90,552.16 L996.20,551.85 L996.50,551.55 L996.80,551.27 L997.10,551.01 L997.40,550.75 L997.70,550.51 L998.00,550.27 L998.30,550.05 L998.60,549.84 L998.90,549.63 L999.20,549.44 L999.50,549.25 L999.80,549.07 L1000.10,548.89 L1000.40,548.73 L1000.70,548.57 L1001.00,548.41 L1001.30,548.26 L1001.60,548.12 L1001.90,547.98 L1002.20,547.84 L1002.50,547.71 L1002.80,547.58 L1003.10,547.46 L1003.40,547.34 L1003.70,547.22 L1004.00,547.11 L1004.30,547.00 L1004.60,546.89 L1004.90,546.79 L1005.20,546.69 L1005.50,546.59 L1005.80,546.49 L1006.10,546.40 L1006.40,546.31 L1006.70,546.22 L1007.00,546.13 L1007.30,546.04 L1007.60,545.96 L1007.90,545.87 L1008.20,545.79 L1008.50,545.71 L1008.80,545.64 L1009.10,545.56 L1009.40,545.49 L1009.70,545.41 L1010.00,545.34" fill="none" stroke="#000" stroke-width="2.5" stroke-dasharray="4,6"/>
<path d="M970.00,543.11 L970.20,543.16 L970.40,543.22 L970.60,543.27 L970.80,543.33 L971.00,543.39 L971.20,543.46 L971.40,543.52 L971.60,543.59 L971.80,543.66 L972.00,543.73 L972.20,543.81 L972.40,543.88 L972.60,543.97 L972.80,544.05 L973.00,544.14 L973.20,544.23 L973.40,544.33 L973.60,544.42 L973.80,544.53 L974.00,544.64 L974.20,544.75 L974.40,544.86 L974.60,544.99 L974.80,545.11 L975.00,545.24 L975.20,545.38 L975.40,545.52 L975.60,545.67 L975.80,545.83 L976.00,545.99 L976.20,546.16 L976.40,546.34 L976.60,546.53 L976.80,546.72 L977.00,546.92 L977.20,547.13 L977.40,547.35 L977.60,547.57 L977.80,547.81 L978.00,548.06 L978.20,548.32 L978.40,548.59 L978.60,548.87 L978.80,549.16 L979.00,549.46 L979.20,549.78 L979.40,550.10 L979.60,550.45 L979.80,550.80 L980.00,551.17 L980.20,551.55 L980.40,551.95 L980.60,552.37 L980.80,552.80 L981.00,553.24 L981.20,553.71 L981.40,554.19 L981.60,554.68 L981.80,555.20 L982.00,555.73 L982.20,556.28 L982.40,556.86 L982.60,557.45 L982.80,558.06 L983.00,558.69 L983.20,559.34 L983.40,560.01 L983.60,560.70 L983.80,561.42 L984.00,562.15 L984.20,562.91 L984.40,563.69 L984.60,564.50 L984.80,565.32 L985.00,566.17 L985.20,567.04 L985.40,567.94 L985.60,568.86 L985.80,569.80 L986.00,570.76 L986.20,571.75 L986.40,572.76 L986.60,573.79 L986.80,574.85 L987.00,575.93 L987.20,577.03 L987.40,578.15 L987.60,579.29 L987.80,580.46 L988.00,581.65 L988.20,582.86 L988.40,584.09 L988.60,585.33 L988.80,586.60 L989.00,587.89 L989.20,589.19 L989.40,590.51 L989.60,591.85 L989.80,593.20 L990.00,594.57 L990.20,595.95 L990.40,597.34 L990.60,598.74 L990.80,600.16 L991.00,601.58 L991.20,603.01 L991.40,604.45 L991.60,605.89 L991.80,607.34 L992.00,608.79 L992.20,610.24 L992.40,611.69 L992.60,613.13 L992.80,614.57 L993.00,616.01 L993.20,617.44 L993.40,618.86 L993.60,620.27 L993.80,621.66 L994.00,623.04 L994.20,624.40 L994.40,625.75 L994.60,627.07 L994.80,628.36 L995.00,629.63 L995.20,630.88 L995.40,632.09 L995.60,633.27 L995.80,634.41 L996.00,635.52 L996.20,636.58 L996.40,637.61 L996.60,638.59 L996.80,639.52 L997.00,640.40 L997.20,641.24 L997.40,642.02 L997.60,642.75 L997.80,643.42 L998.00,644.03 L998.20,644.58 L998.40,645.07 L998.60,645.50 L998.80,645.86 L999.00,646.16 L999.20,646.40 L999.40,646.57 L999.60,646.67 L999.80,646.70 L1000.00,646.67 L1000.20,646.57 L1000.40,646.40 L1000.60,646.16 L1000.80,645.86 L1001.00,645.50 L1001.20,645.07 L1001.40,644.58 L1001.60,644.03 L1001.80,643.42 L1002.00,642.75 L1002.20,642.02 L1002.40,641.24 L1002.60,640.40 L1002.80,639.52 L1003.00,638.59 L1003.20,637.61 L1003.40,636.58 L1003.60,635.52 L1003.80,634.41 L1004.00,633.27 L1004.20,632.09 L1004.40,630.88 L1004.60,629.63 L1004.80,628.36 L1005.00,627.07 L1005.20,625.75 L1005.40,624.40 L1005.60,623.04 L1005.80,621.66 L1006.00,620.27 L1006.20,618.86 L1006.40,617.44 L1006.60,616.01 L1006.80,614.57 L1007.00,613.13 L1007.20,611.69 L1007.40,610.24 L1007.60,608.79 L1007.80,607.34 L1008.00,605.89 L1008.20,604.45 L1008.40,603.01 L1008.60,601.58 L1008.80,600.16 L1009.00,598.74 L1009.20,597.34 L1009.40,595.95 L1009.60,594.57 L1009.80,593.20 L1010.00,591.85 L1010.20,590.51 L1010.40,589.19 L1010.60,587.89 L1010.80,586.60 L1011.00,585.33 L1011.20,584.09 L1011.40,582.86 L1011.60,581.65 L1011.80,580.46 L1012.00,579.29 L1012.20,578.15 L1012.40,577.03 L1012.60,575.93 L1012.80,574.85 L1013.00,573.79 L1013.20,572.76 L1013.40,571.75 L1013.60,570.76 L1013.80,569.80 L1014.00,568.86 L1014.20,567.94 L1014.40,567.04 L1014.60,566.17 L1014.80,565.32 L1015.00,564.50 L1015.20,563.69 L1015.40,562.91 L1015.60,562.15 L1015.80,561.42 L1016.00,560.70 L1016.20,560.01 L1016.40,559.34 L1016.60,558.69 L1016.80,558.06 L1017.00,557.45 L1017.20,556.86 L1017.40,556.28 L1017.60,555.73 L1017.80,555.20 L1018.00,554.68 L1018.20,554.19 L1018.40,553.71 L1018.60,553.24 L1018.80,552.80 L1019.00,552.37 L1019.20,551.95 L1019.40,551.55 L1019.60,551.17 L1019.80,550.80 L1020.00,550.45 L1020.20,550.10 L1020.40,549.78 L1020.60,549.46 L1020.80,549.16 L1021.00,548.87 L1021.20,548.59 L1021.40,548.32 L1021.60,548.06 L1021.80,547.81 L1022.00,547.57 L1022.20,547.35 L1022.40,547.13 L1022.60,546.92 L1022.80,546.72 L1023.00,546.53 L1023.20,546.34 L1023.40,546.16 L1023.60,545.99 L1023.80,545.83 L1024.00,545.67 L1024.20,545.52 L1024.40,545.38 L1024.60,545.24 L1024.80,545.11 L1025.00,544.99 L1025.20,544.86 L1025.40,544.75 L1025.60,544.64 L1025.80,544.53 L1026.00,544.42 L1026.20,544.33 L1026.40,544.23 L1026.60,544.14 L1026.80,544.05 L1027.00,543.97 L1027.20,543.88 L1027.40,543.81 L1027.60,543.73 L1027.80,543.66 L1028.00,543.59 L1028.20,543.52 L1028.40,543.46 L1028.60,543.39 L1028.80,543.33 L1029.00,543.27 L1029.20,543.22 L1029.40,543.16 L1029.60,543.11 L1029.80,543.06 L1030.00,543.01" fill="none" stroke="#000" stroke-width="2.5" stroke-dasharray="4,6"/>
<path d="M990.00,560.97 L990.53,561.50 L991.07,562.06 L991.60,562.64 L992.13,563.24 L992.67,563.87 L993.20,564.52 L993.73,565.20 L994.27,565.91 L994.80,566.65 L995.33,567.42 L995.87,568.22 L996.40,569.06 L996.93,569.93 L997.47,570.83 L998.00,571.77 L998.53,572.75 L999.07,573.76 L999.60,574.82 L1000.13,575.92 L1000.67,577.06 L1001.20,578.24 L1001.73,579.47 L1002.27,580.75 L1002.80,582.07 L1003.33,583.44 L1003.87,584.86 L1004.40,586.34 L1004.93,587.86 L1005.47,589.44 L1006.00,591.08 L1006.53,592.77 L1007.07,594.51 L1007.60,596.31 L1008.13,598.18 L1008.67,600.10 L1009.20,602.08 L1009.73,604.12 L1010.27,606.22 L1010.80,608.38 L1011.33,610.61 L1011.87,612.90 L1012.40,615.25 L1012.93,617.66 L1013.47,620.13 L1014.00,622.67 L1014.53,625.27 L1015.07,627.93 L1015.60,630.66 L1016.13,633.44 L1016.67,636.28 L1017.20,639.19 L1017.73,642.15 L1018.27,645.16 L1018.80,648.24 L1019.33,651.36 L1019.87,654.54 L1020.40,657.77 L1020.93,661.04 L1021.47,664.36 L1022.00,667.72 L1022.53,671.12 L1023.07,674.56 L1023.60,678.03 L1024.13,681.53 L1024.67,685.05 L1025.20,688.59 L1025.73,692.16 L1026.27,695.73 L1026.80,699.31 L1027.33,702.89 L1027.87,706.47 L1028.40,710.03 L1028.93,713.58 L1029.47,717.10 L1030.00,720.60 L1030.53,724.05 L1031.07,727.46 L1031.60,730.82 L1032.13,734.11 L1032.67,737.33 L1033.20,740.47 L1033.73,743.53 L1034.27,746.48 L1034.80,749.33 L1035.33,752.06 L1035.87,754.67 L1036.40,757.14 L1036.93,759.46 L1037.47,761.64 L1038.00,763.65 L1038.53,765.49 L1039.07,767.16 L1039.60,768.64 L1040.13,769.93 L1040.67,771.02 L1041.20,771.91 L1041.73,772.60 L1042.27,773.07 L1042.80,773.34 L1043.33,773.39 L1043.87,773.23 L1044.40,772.86 L1044.93,772.28 L1045.47,771.49 L1046.00,770.50 L1046.53,769.31 L1047.07,767.92 L1047.60,766.35 L1048.13,764.59 L1048.67,762.66 L1049.20,760.57 L1049.73,758.32 L1050.27,755.92 L1050.80,753.38 L1051.33,750.71 L1051.87,747.92 L1052.40,745.02 L1052.93,742.01 L1053.47,738.91 L1054.00,735.73 L1054.53,732.47 L1055.07,729.15 L1055.60,725.76 L1056.13,722.33 L1056.67,718.85 L1057.20,715.34 L1057.73,711.81 L1058.27,708.25 L1058.80,704.68 L1059.33,701.10 L1059.87,697.52 L1060.40,693.94 L1060.93,690.37 L1061.47,686.82 L1062.00,683.28 L1062.53,679.77 L1063.07,676.29 L1063.60,672.83 L1064.13,669.42 L1064.67,666.03 L1065.20,662.69 L1065.73,659.40 L1066.27,656.15 L1066.80,652.94 L1067.33,649.79 L1067.87,646.69 L1068.40,643.65 L1068.93,640.66 L1069.47,637.73 L1070.00,634.85 L1070.53,632.04 L1071.07,629.29 L1071.60,626.59 L1072.13,623.96 L1072.67,621.39 L1073.20,618.89 L1073.73,616.44 L1074.27,614.06 L1074.80,611.74 L1075.33,609.49 L1075.87,607.29 L1076.40,605.16 L1076.93,603.09 L1077.47,601.08 L1078.00,599.13 L1078.53,597.24 L1079.07,595.41 L1079.60,593.63 L1080.13,591.91 L1080.67,590.25 L1081.20,588.65 L1081.73,587.09 L1082.27,585.59 L1082.80,584.15 L1083.33,582.75 L1083.87,581.40 L1084.40,580.10 L1084.93,578.85 L1085.47,577.64 L1086.00,576.48 L1086.53,575.36 L1087.07,574.28 L1087.60,573.25 L1088.13,572.25 L1088.67,571.29 L1089.20,570.37 L1089.73,569.49 L1090.27,568.64 L1090.80,567.82 L1091.33,567.03 L1091.87,566.28 L1092.40,565.56 L1092.93,564.86 L1093.47,564.19 L1094.00,563.55 L1094.53,562.94 L1095.07,562.34 L1095.60,561.78 L1096.13,561.23 L1096.67,560.71 L1097.20,560.20 L1097.73,559.72 L1098.27,559.26 L1098.80,558.81 L1099.33,558.38 L1099.87,557.97 L1100.40,557.57 L1100.93,557.19 L1101.47,556.82 L1102.00,556.47 L1102.53,556.12 L1103.07,555.80 L1103.60,555.48 L1104.13,555.17 L1104.67,554.88 L1105.20,554.59 L1105.73,554.32 L1106.27,554.05 L1106.80,553.80 L1107.33,553.55 L1107.87,553.31 L1108.40,553.08 L1108.93,552.85 L1109.47,552.63 L1110.00,552.42 L1110.53,552.22 L1111.07,552.02 L1111.60,551.82 L1112.13,551.64 L1112.67,551.45 L1113.20,551.28 L1113.73,551.10 L1114.27,550.93 L1114.80,550.77 L1115.33,550.61 L1115.87,550.46 L1116.40,550.30 L1116.93,550.16 L1117.47,550.01 L1118.00,549.87 L1118.53,549.73 L1119.07,549.60 L1119.60,549.47 L1120.13,549.34 L1120.67,549.21 L1121.20,549.09 L1121.73,548.97 L1122.27,548.85 L1122.80,548.73 L1123.33,548.62 L1123.87,548.51 L1124.40,548.40 L1124.93,548.29 L1125.47,548.19 L1126.00,548.09 L1126.53,547.98 L1127.07,547.89 L1127.60,547.79 L1128.13,547.69 L1128.67,547.60 L1129.20,547.51 L1129.73,547.42 L1130.27,547.33 L1130.80,547.24 L1131.33,547.16 L1131.87,547.07 L1132.40,546.99 L1132.93,546.91 L1133.47,546.83 L1134.00,546.75 L1134.53,546.67 L1135.07,546.59 L1135.60,546.52 L1136.13,546.45 L1136.67,546.37 L1137.20,546.30 L1137.73,546.23 L1138.27,546.16 L1138.80,546.09 L1139.33,546.03 L1139.87,545.96 L1140.40,545.90 L1140.93,545.83 L1141.47,545.77 L1142.00,545.71 L1142.53,545.65 L1143.07,545.59 L1143.60,545.53 L1144.13,545.47 L1144.67,545.41 L1145.20,545.35 L1145.73,545.30 L1146.27,545.24 L1146.80,545.19 L1147.33,545.14 L1147.87,545.08 L1148.40,545.03 L1148.93,544.98 L1149.47,544.93 L1150.00,544.88" fill="none" stroke="#000" stroke-width="2.5" stroke-dasharray="4,6"/>
<rect x="314.50" y="539.00" width="1072.70" height="8.00" fill="#000"/>
<rect x="314.50" y="536.60" width="345.50" height="2.50" fill="#0000FF"/>
<rect x="660.00" y="536.60" width="40.00" height="2.50" fill="#7A00A0"/>
<rect x="700.00" y="536.60" width="375.00" height="2.50" fill="#99001F"/>
<rect x="1075.00" y="536.60" width="312.20" height="2.50" fill="#008A00"/>
<path d="M314.50,537.00 C315.63,536.98 317.35,538.32 321.30,536.90 C325.25,535.48 333.03,531.08 338.20,528.50 C343.37,525.92 347.62,523.28 352.30,521.40 C356.98,519.52 362.08,518.37 366.30,517.20 C370.52,516.03 374.65,515.93 377.60,514.40 C380.55,512.87 381.72,510.78 384.00,508.00 C386.28,505.22 388.17,503.17 391.30,497.70 C394.43,492.23 398.95,482.70 402.80,475.20 C406.65,467.70 410.50,460.22 414.40,452.70 C418.30,445.18 422.27,437.62 426.20,430.10 C430.13,422.58 433.78,415.12 438.00,407.60 C442.22,400.08 448.17,390.52 451.50,385.00 C454.83,379.48 455.92,377.78 458.00,374.50 C460.08,371.22 462.00,368.08 464.00,365.30 C466.00,362.52 468.00,360.03 470.00,357.80 C472.00,355.57 474.00,353.60 476.00,351.90 C478.00,350.20 480.00,348.78 482.00,347.60 C484.00,346.42 485.90,345.52 488.00,344.80 C490.10,344.08 492.27,343.35 494.60,343.30 C496.93,343.25 499.60,343.63 502.00,344.50 C504.40,345.37 506.98,346.75 509.00,348.50 C511.02,350.25 512.25,351.73 514.10,355.00 C515.95,358.27 518.33,363.42 520.10,368.10 C521.87,372.78 523.18,377.10 524.70,383.10 C526.22,389.10 527.45,396.58 529.20,404.10 C530.95,411.62 533.20,420.18 535.20,428.20 C537.20,436.22 539.45,445.20 541.20,452.20 C542.95,459.20 544.33,464.73 545.70,470.20 C547.07,475.67 547.30,473.20 549.40,485.00 C551.50,496.80 555.80,526.07 558.30,541.00 C560.80,555.93 562.17,562.72 564.40,574.60 C566.63,586.48 569.25,599.67 571.70,612.30 C574.15,624.93 576.65,637.77 579.10,650.40 C581.55,663.03 584.17,676.57 586.40,688.10 C588.63,699.63 590.47,709.10 592.50,719.60 C594.53,730.10 596.37,739.60 598.60,751.10 C600.83,762.60 603.05,776.25 605.90,788.60 C608.75,800.95 612.03,813.40 615.70,825.20 C619.37,837.00 623.43,851.07 627.90,859.40 C632.37,867.73 637.62,875.62 642.50,875.20 C647.38,874.78 652.32,863.20 657.20,856.90 C662.08,850.60 666.92,843.50 671.80,837.40 C676.68,831.30 682.02,828.43 686.50,820.30 C690.98,812.17 694.63,799.58 698.70,788.60 C702.77,777.62 706.83,766.62 710.90,754.40 C714.97,742.18 719.03,728.32 723.10,715.30 C727.17,702.28 731.23,689.32 735.30,676.30 C739.37,663.28 743.83,649.02 747.50,637.20 C751.17,625.38 754.03,615.57 757.30,605.40 C760.57,595.23 764.05,585.10 767.10,576.20 C770.15,567.30 773.37,558.70 775.60,552.00 C777.83,545.30 778.42,543.35 780.50,536.00 C782.58,528.65 785.22,517.98 788.10,507.90 C790.98,497.82 794.75,485.22 797.80,475.50 C800.85,465.78 803.33,457.88 806.40,449.60 C809.47,441.32 812.77,433.00 816.20,425.80 C819.63,418.60 823.40,412.15 827.00,406.40 C830.60,400.65 833.85,396.33 837.80,391.30 C841.75,386.27 846.38,379.83 850.70,376.20 C855.02,372.57 859.60,370.43 863.70,369.50 C867.80,368.57 871.63,369.73 875.30,370.60 C878.97,371.47 882.25,372.80 885.70,374.70 C889.15,376.60 892.57,379.23 896.00,382.00 C899.43,384.77 903.20,387.87 906.30,391.30 C909.40,394.73 911.83,398.65 914.60,402.60 C917.37,406.55 920.48,413.62 922.90,415.00 C925.32,416.38 927.03,415.72 929.10,410.90 C931.17,406.08 933.58,395.05 935.30,386.10 C937.02,377.15 938.03,363.40 939.40,357.20 C940.77,351.00 942.13,348.22 943.50,348.90 C944.87,349.58 946.40,352.35 947.60,361.30 C948.80,370.25 949.83,388.83 950.70,402.60 C951.57,416.37 952.10,430.12 952.80,443.90 C953.50,457.68 954.22,471.52 954.90,485.30 C955.58,499.08 956.30,510.48 956.90,526.60 C957.50,542.72 957.88,565.88 958.50,582.00 C959.12,598.12 959.92,609.53 960.60,623.30 C961.28,637.07 961.75,652.55 962.60,664.60 C963.45,676.65 964.83,688.53 965.70,695.60 C966.57,702.67 966.93,707.00 967.80,707.00 C968.67,707.00 969.87,702.67 970.90,695.60 C971.93,688.53 972.97,676.65 974.00,664.60 C975.03,652.55 976.07,637.07 977.10,623.30 C978.13,609.53 979.17,594.73 980.20,582.00 C981.23,569.27 982.27,555.17 983.30,546.90 C984.33,538.63 985.37,535.17 986.40,532.40 C987.43,529.63 987.95,527.20 989.50,530.30 C991.05,533.40 993.63,542.38 995.70,551.00 C997.77,559.62 1000.18,574.77 1001.90,582.00 C1003.62,589.23 1004.28,593.37 1006.00,594.40 C1007.72,595.43 1010.13,591.48 1012.20,588.20 C1014.27,584.92 1016.33,576.43 1018.40,574.70 C1020.47,572.97 1022.53,573.15 1024.60,577.80 C1026.67,582.45 1028.73,592.95 1030.80,602.60 C1032.87,612.25 1034.93,625.37 1037.00,635.70 C1039.07,646.03 1041.65,658.07 1043.20,664.60 C1044.75,671.13 1044.92,674.90 1046.30,674.90 C1047.68,674.90 1049.62,671.48 1051.50,664.60 C1053.38,657.72 1055.55,645.65 1057.60,633.60 C1059.65,621.55 1061.90,606.07 1063.80,592.30 C1065.70,578.53 1067.62,561.33 1069.00,551.00 C1070.38,540.67 1070.62,540.23 1072.10,530.30 C1073.58,520.37 1075.57,502.80 1077.90,491.40 C1080.23,480.00 1083.08,470.65 1086.10,461.90 C1089.12,453.15 1092.15,446.02 1096.00,438.90 C1099.85,431.78 1104.27,424.68 1109.20,419.20 C1114.13,413.72 1120.13,408.75 1125.60,406.00 C1131.07,403.25 1136.53,402.70 1142.00,402.70 C1147.47,402.70 1152.92,404.35 1158.40,406.00 C1163.88,407.65 1169.42,409.58 1174.90,412.60 C1180.38,415.62 1185.83,420.55 1191.30,424.10 C1196.77,427.65 1202.22,430.07 1207.70,433.90 C1213.18,437.73 1218.72,442.43 1224.20,447.10 C1229.68,451.77 1235.13,457.25 1240.60,461.90 C1246.07,466.55 1251.52,471.83 1257.00,475.00 C1262.48,478.17 1268.02,479.53 1273.50,480.90 C1278.98,482.27 1284.43,481.88 1289.90,483.20 C1295.37,484.52 1300.82,487.15 1306.30,488.80 C1311.78,490.45 1317.87,491.28 1322.80,493.10 C1327.73,494.92 1331.53,496.68 1335.90,499.70 C1340.27,502.72 1344.62,507.65 1349.00,511.20 C1353.38,514.75 1357.82,517.72 1362.20,521.00 C1366.58,524.28 1371.47,528.15 1375.30,530.90 C1379.13,533.65 1383.55,536.40 1385.20,537.50" fill="none" stroke="#000" stroke-width="6.5" stroke-linejoin="round" transform="translate(0,-1.4)"/>
<path d="M314.50,537.00 C315.63,536.98 317.35,538.32 321.30,536.90 C325.25,535.48 333.03,531.08 338.20,528.50 C343.37,525.92 347.62,523.28 352.30,521.40 C356.98,519.52 362.08,518.37 366.30,517.20 C370.52,516.03 374.65,515.93 377.60,514.40 C380.55,512.87 381.72,510.78 384.00,508.00 C386.28,505.22 388.17,503.17 391.30,497.70 C394.43,492.23 398.95,482.70 402.80,475.20 C406.65,467.70 410.50,460.22 414.40,452.70 C418.30,445.18 422.27,437.62 426.20,430.10 C430.13,422.58 433.78,415.12 438.00,407.60 C442.22,400.08 448.17,390.52 451.50,385.00 C454.83,379.48 455.92,377.78 458.00,374.50 C460.08,371.22 462.00,368.08 464.00,365.30 C466.00,362.52 468.00,360.03 470.00,357.80 C472.00,355.57 474.00,353.60 476.00,351.90 C478.00,350.20 480.00,348.78 482.00,347.60 C484.00,346.42 485.90,345.52 488.00,344.80 C490.10,344.08 492.27,343.35 494.60,343.30 C496.93,343.25 499.60,343.63 502.00,344.50 C504.40,345.37 506.98,346.75 509.00,348.50 C511.02,350.25 512.25,351.73 514.10,355.00 C515.95,358.27 518.33,363.42 520.10,368.10 C521.87,372.78 523.18,377.10 524.70,383.10 C526.22,389.10 527.45,396.58 529.20,404.10 C530.95,411.62 533.20,420.18 535.20,428.20 C537.20,436.22 539.45,445.20 541.20,452.20 C542.95,459.20 544.33,464.73 545.70,470.20 C547.07,475.67 547.30,473.20 549.40,485.00 C551.50,496.80 555.80,526.07 558.30,541.00 C560.80,555.93 562.17,562.72 564.40,574.60 C566.63,586.48 569.25,599.67 571.70,612.30 C574.15,624.93 576.65,637.77 579.10,650.40 C581.55,663.03 584.17,676.57 586.40,688.10 C588.63,699.63 590.47,709.10 592.50,719.60 C594.53,730.10 596.37,739.60 598.60,751.10 C600.83,762.60 603.05,776.25 605.90,788.60 C608.75,800.95 612.03,813.40 615.70,825.20 C619.37,837.00 623.43,851.07 627.90,859.40 C632.37,867.73 637.62,875.62 642.50,875.20 C647.38,874.78 652.32,863.20 657.20,856.90 C662.08,850.60 666.92,843.50 671.80,837.40 C676.68,831.30 682.02,828.43 686.50,820.30 C690.98,812.17 694.63,799.58 698.70,788.60 C702.77,777.62 706.83,766.62 710.90,754.40 C714.97,742.18 719.03,728.32 723.10,715.30 C727.17,702.28 731.23,689.32 735.30,676.30 C739.37,663.28 743.83,649.02 747.50,637.20 C751.17,625.38 754.03,615.57 757.30,605.40 C760.57,595.23 764.05,585.10 767.10,576.20 C770.15,567.30 773.37,558.70 775.60,552.00 C777.83,545.30 778.42,543.35 780.50,536.00 C782.58,528.65 785.22,517.98 788.10,507.90 C790.98,497.82 794.75,485.22 797.80,475.50 C800.85,465.78 803.33,457.88 806.40,449.60 C809.47,441.32 812.77,433.00 816.20,425.80 C819.63,418.60 823.40,412.15 827.00,406.40 C830.60,400.65 833.85,396.33 837.80,391.30 C841.75,386.27 846.38,379.83 850.70,376.20 C855.02,372.57 859.60,370.43 863.70,369.50 C867.80,368.57 871.63,369.73 875.30,370.60 C878.97,371.47 882.25,372.80 885.70,374.70 C889.15,376.60 892.57,379.23 896.00,382.00 C899.43,384.77 903.20,387.87 906.30,391.30 C909.40,394.73 911.83,398.65 914.60,402.60 C917.37,406.55 920.48,413.62 922.90,415.00 C925.32,416.38 927.03,415.72 929.10,410.90 C931.17,406.08 933.58,395.05 935.30,386.10 C937.02,377.15 938.03,363.40 939.40,357.20 C940.77,351.00 942.13,348.22 943.50,348.90 C944.87,349.58 946.40,352.35 947.60,361.30 C948.80,370.25 949.83,388.83 950.70,402.60 C951.57,416.37 952.10,430.12 952.80,443.90 C953.50,457.68 954.22,471.52 954.90,485.30 C955.58,499.08 956.30,510.48 956.90,526.60 C957.50,542.72 957.88,565.88 958.50,582.00 C959.12,598.12 959.92,609.53 960.60,623.30 C961.28,637.07 961.75,652.55 962.60,664.60 C963.45,676.65 964.83,688.53 965.70,695.60 C966.57,702.67 966.93,707.00 967.80,707.00 C968.67,707.00 969.87,702.67 970.90,695.60 C971.93,688.53 972.97,676.65 974.00,664.60 C975.03,652.55 976.07,637.07 977.10,623.30 C978.13,609.53 979.17,594.73 980.20,582.00 C981.23,569.27 982.27,555.17 983.30,546.90 C984.33,538.63 985.37,535.17 986.40,532.40 C987.43,529.63 987.95,527.20 989.50,530.30 C991.05,533.40 993.63,542.38 995.70,551.00 C997.77,559.62 1000.18,574.77 1001.90,582.00 C1003.62,589.23 1004.28,593.37 1006.00,594.40 C1007.72,595.43 1010.13,591.48 1012.20,588.20 C1014.27,584.92 1016.33,576.43 1018.40,574.70 C1020.47,572.97 1022.53,573.15 1024.60,577.80 C1026.67,582.45 1028.73,592.95 1030.80,602.60 C1032.87,612.25 1034.93,625.37 1037.00,635.70 C1039.07,646.03 1041.65,658.07 1043.20,664.60 C1044.75,671.13 1044.92,674.90 1046.30,674.90 C1047.68,674.90 1049.62,671.48 1051.50,664.60 C1053.38,657.72 1055.55,645.65 1057.60,633.60 C1059.65,621.55 1061.90,606.07 1063.80,592.30 C1065.70,578.53 1067.62,561.33 1069.00,551.00 C1070.38,540.67 1070.62,540.23 1072.10,530.30 C1073.58,520.37 1075.57,502.80 1077.90,491.40 C1080.23,480.00 1083.08,470.65 1086.10,461.90 C1089.12,453.15 1092.15,446.02 1096.00,438.90 C1099.85,431.78 1104.27,424.68 1109.20,419.20 C1114.13,413.72 1120.13,408.75 1125.60,406.00 C1131.07,403.25 1136.53,402.70 1142.00,402.70 C1147.47,402.70 1152.92,404.35 1158.40,406.00 C1163.88,407.65 1169.42,409.58 1174.90,412.60 C1180.38,415.62 1185.83,420.55 1191.30,424.10 C1196.77,427.65 1202.22,430.07 1207.70,433.90 C1213.18,437.73 1218.72,442.43 1224.20,447.10 C1229.68,451.77 1235.13,457.25 1240.60,461.90 C1246.07,466.55 1251.52,471.83 1257.00,475.00 C1262.48,478.17 1268.02,479.53 1273.50,480.90 C1278.98,482.27 1284.43,481.88 1289.90,483.20 C1295.37,484.52 1300.82,487.15 1306.30,488.80 C1311.78,490.45 1317.87,491.28 1322.80,493.10 C1327.73,494.92 1331.53,496.68 1335.90,499.70 C1340.27,502.72 1344.62,507.65 1349.00,511.20 C1353.38,514.75 1357.82,517.72 1362.20,521.00 C1366.58,524.28 1371.47,528.15 1375.30,530.90 C1379.13,533.65 1383.55,536.40 1385.20,537.50" fill="none" stroke="#000" stroke-width="6.5" stroke-linejoin="round" transform="translate(0,1.4)"/>
<path d="M314.50,537.00 C315.63,536.98 317.35,538.32 321.30,536.90 C325.25,535.48 333.03,531.08 338.20,528.50 C343.37,525.92 347.62,523.28 352.30,521.40 C356.98,519.52 362.08,518.37 366.30,517.20 C370.52,516.03 374.65,515.93 377.60,514.40 C380.55,512.87 381.72,510.78 384.00,508.00 C386.28,505.22 388.17,503.17 391.30,497.70 C394.43,492.23 398.95,482.70 402.80,475.20 C406.65,467.70 410.50,460.22 414.40,452.70 C418.30,445.18 422.27,437.62 426.20,430.10 C430.13,422.58 433.78,415.12 438.00,407.60 C442.22,400.08 448.17,390.52 451.50,385.00 C454.83,379.48 455.92,377.78 458.00,374.50 C460.08,371.22 462.00,368.08 464.00,365.30 C466.00,362.52 468.00,360.03 470.00,357.80 C472.00,355.57 474.00,353.60 476.00,351.90 C478.00,350.20 480.00,348.78 482.00,347.60 C484.00,346.42 485.90,345.52 488.00,344.80 C490.10,344.08 492.27,343.35 494.60,343.30 C496.93,343.25 499.60,343.63 502.00,344.50 C504.40,345.37 506.98,346.75 509.00,348.50 C511.02,350.25 512.25,351.73 514.10,355.00 C515.95,358.27 518.33,363.42 520.10,368.10 C521.87,372.78 523.18,377.10 524.70,383.10 C526.22,389.10 527.45,396.58 529.20,404.10 C530.95,411.62 533.20,420.18 535.20,428.20 C537.20,436.22 539.45,445.20 541.20,452.20 C542.95,459.20 544.33,464.73 545.70,470.20 C547.07,475.67 547.30,473.20 549.40,485.00 C551.50,496.80 555.80,526.07 558.30,541.00 C560.80,555.93 562.17,562.72 564.40,574.60 C566.63,586.48 569.25,599.67 571.70,612.30 C574.15,624.93 576.65,637.77 579.10,650.40 C581.55,663.03 584.17,676.57 586.40,688.10 C588.63,699.63 590.47,709.10 592.50,719.60 C594.53,730.10 596.37,739.60 598.60,751.10 C600.83,762.60 603.05,776.25 605.90,788.60 C608.75,800.95 612.03,813.40 615.70,825.20 C619.37,837.00 623.43,851.07 627.90,859.40 C632.37,867.73 637.62,875.62 642.50,875.20 C647.38,874.78 652.32,863.20 657.20,856.90 C662.08,850.60 666.92,843.50 671.80,837.40 C676.68,831.30 682.02,828.43 686.50,820.30 C690.98,812.17 694.63,799.58 698.70,788.60 C702.77,777.62 706.83,766.62 710.90,754.40 C714.97,742.18 719.03,728.32 723.10,715.30 C727.17,702.28 731.23,689.32 735.30,676.30 C739.37,663.28 743.83,649.02 747.50,637.20 C751.17,625.38 754.03,615.57 757.30,605.40 C760.57,595.23 764.05,585.10 767.10,576.20 C770.15,567.30 773.37,558.70 775.60,552.00 C777.83,545.30 778.42,543.35 780.50,536.00 C782.58,528.65 785.22,517.98 788.10,507.90 C790.98,497.82 794.75,485.22 797.80,475.50 C800.85,465.78 803.33,457.88 806.40,449.60 C809.47,441.32 812.77,433.00 816.20,425.80 C819.63,418.60 823.40,412.15 827.00,406.40 C830.60,400.65 833.85,396.33 837.80,391.30 C841.75,386.27 846.38,379.83 850.70,376.20 C855.02,372.57 859.60,370.43 863.70,369.50 C867.80,368.57 871.63,369.73 875.30,370.60 C878.97,371.47 882.25,372.80 885.70,374.70 C889.15,376.60 892.57,379.23 896.00,382.00 C899.43,384.77 903.20,387.87 906.30,391.30 C909.40,394.73 911.83,398.65 914.60,402.60 C917.37,406.55 920.48,413.62 922.90,415.00 C925.32,416.38 927.03,415.72 929.10,410.90 C931.17,406.08 933.58,395.05 935.30,386.10 C937.02,377.15 938.03,363.40 939.40,357.20 C940.77,351.00 942.13,348.22 943.50,348.90 C944.87,349.58 946.40,352.35 947.60,361.30 C948.80,370.25 949.83,388.83 950.70,402.60 C951.57,416.37 952.10,430.12 952.80,443.90 C953.50,457.68 954.22,471.52 954.90,485.30 C955.58,499.08 956.30,510.48 956.90,526.60 C957.50,542.72 957.88,565.88 958.50,582.00 C959.12,598.12 959.92,609.53 960.60,623.30 C961.28,637.07 961.75,652.55 962.60,664.60 C963.45,676.65 964.83,688.53 965.70,695.60 C966.57,702.67 966.93,707.00 967.80,707.00 C968.67,707.00 969.87,702.67 970.90,695.60 C971.93,688.53 972.97,676.65 974.00,664.60 C975.03,652.55 976.07,637.07 977.10,623.30 C978.13,609.53 979.17,594.73 980.20,582.00 C981.23,569.27 982.27,555.17 983.30,546.90 C984.33,538.63 985.37,535.17 986.40,532.40 C987.43,529.63 987.95,527.20 989.50,530.30 C991.05,533.40 993.63,542.38 995.70,551.00 C997.77,559.62 1000.18,574.77 1001.90,582.00 C1003.62,589.23 1004.28,593.37 1006.00,594.40 C1007.72,595.43 1010.13,591.48 1012.20,588.20 C1014.27,584.92 1016.33,576.43 1018.40,574.70 C1020.47,572.97 1022.53,573.15 1024.60,577.80 C1026.67,582.45 1028.73,592.95 1030.80,602.60 C1032.87,612.25 1034.93,625.37 1037.00,635.70 C1039.07,646.03 1041.65,658.07 1043.20,664.60 C1044.75,671.13 1044.92,674.90 1046.30,674.90 C1047.68,674.90 1049.62,671.48 1051.50,664.60 C1053.38,657.72 1055.55,645.65 1057.60,633.60 C1059.65,621.55 1061.90,606.07 1063.80,592.30 C1065.70,578.53 1067.62,561.33 1069.00,551.00 C1070.38,540.67 1070.62,540.23 1072.10,530.30 C1073.58,520.37 1075.57,502.80 1077.90,491.40 C1080.23,480.00 1083.08,470.65 1086.10,461.90 C1089.12,453.15 1092.15,446.02 1096.00,438.90 C1099.85,431.78 1104.27,424.68 1109.20,419.20 C1114.13,413.72 1120.13,408.75 1125.60,406.00 C1131.07,403.25 1136.53,402.70 1142.00,402.70 C1147.47,402.70 1152.92,404.35 1158.40,406.00 C1163.88,407.65 1169.42,409.58 1174.90,412.60 C1180.38,415.62 1185.83,420.55 1191.30,424.10 C1196.77,427.65 1202.22,430.07 1207.70,433.90 C1213.18,437.73 1218.72,442.43 1224.20,447.10 C1229.68,451.77 1235.13,457.25 1240.60,461.90 C1246.07,466.55 1251.52,471.83 1257.00,475.00 C1262.48,478.17 1268.02,479.53 1273.50,480.90 C1278.98,482.27 1284.43,481.88 1289.90,483.20 C1295.37,484.52 1300.82,487.15 1306.30,488.80 C1311.78,490.45 1317.87,491.28 1322.80,493.10 C1327.73,494.92 1331.53,496.68 1335.90,499.70 C1340.27,502.72 1344.62,507.65 1349.00,511.20 C1353.38,514.75 1357.82,517.72 1362.20,521.00 C1366.58,524.28 1371.47,528.15 1375.30,530.90 C1379.13,533.65 1383.55,536.40 1385.20,537.50" fill="none" stroke="#FF0000" stroke-width="3.2" stroke-dasharray="10,12"/>
<rect x="306.50" y="172.00" width="8.00" height="857.40" fill="#000"/>
<rect x="290.00" y="172.00" width="1102.70" height="5.00" fill="#000"/>
<rect x="1387.20" y="172.00" width="5.50" height="857.40" fill="#000"/>
<rect x="290.00" y="1023.80" width="1102.70" height="5.60" fill="#000"/>
<rect x="290.00" y="171.51" width="16.50" height="6.00" fill="#000"/>
<rect x="290.00" y="293.24" width="16.50" height="6.00" fill="#000"/>
<rect x="290.00" y="414.97" width="16.50" height="6.00" fill="#000"/>
<rect x="290.00" y="536.70" width="16.50" height="6.00" fill="#000"/>
<rect x="290.00" y="658.43" width="16.50" height="6.00" fill="#000"/>
<rect x="290.00" y="780.16" width="16.50" height="6.00" fill="#000"/>
<rect x="290.00" y="901.89" width="16.50" height="6.00" fill="#000"/>
<rect x="290.00" y="1023.62" width="16.50" height="6.00" fill="#000"/>
<rect x="298.60" y="232.88" width="7.90" height="5.00" fill="#000"/>
<rect x="298.60" y="354.61" width="7.90" height="5.00" fill="#000"/>
<rect x="298.60" y="476.34" width="7.90" height="5.00" fill="#000"/>
<rect x="298.60" y="598.07" width="7.90" height="5.00" fill="#000"/>
<rect x="298.60" y="719.80" width="7.90" height="5.00" fill="#000"/>
<rect x="298.60" y="841.53" width="7.90" height="5.00" fill="#000"/>
<rect x="298.60" y="963.26" width="7.90" height="5.00" fill="#000"/>
<rect x="396.46" y="1029.00" width="8.00" height="18.50" fill="#000"/>
<rect x="576.38" y="1029.00" width="8.00" height="18.50" fill="#000"/>
<rect x="756.30" y="1029.00" width="8.00" height="18.50" fill="#000"/>
<rect x="936.22" y="1029.00" width="8.00" height="18.50" fill="#000"/>
<rect x="1116.14" y="1029.00" width="8.00" height="18.50" fill="#000"/>
<rect x="1296.06" y="1029.00" width="8.00" height="18.50" fill="#000"/>
<rect x="306.50" y="1029.00" width="8.00" height="10.60" fill="#000"/>
<rect x="486.42" y="1029.00" width="8.00" height="10.60" fill="#000"/>
<rect x="666.34" y="1029.00" width="8.00" height="10.60" fill="#000"/>
<rect x="846.26" y="1029.00" width="8.00" height="10.60" fill="#000"/>
<rect x="1026.18" y="1029.00" width="8.00" height="10.60" fill="#000"/>
<rect x="1206.10" y="1029.00" width="8.00" height="10.60" fill="#000"/>
<rect x="1386.02" y="1029.00" width="8.00" height="10.60" fill="#000"/>
<text transform="translate(216.83,190.26) scale(0.9650,1)" font-size="58" fill="#000">30</text>
<text transform="translate(216.83,311.99) scale(0.9650,1)" font-size="58" fill="#000">20</text>
<text transform="translate(216.83,433.72) scale(0.9650,1)" font-size="58" fill="#000">10</text>
<text transform="translate(247.96,555.45) scale(0.9650,1)" font-size="58" fill="#000">0</text>
<text transform="translate(216.83,677.18) scale(0.9650,1)" font-size="58" fill="#000">10</text>
<rect x="185.99" y="659.83" width="27.00" height="3.60" fill="#000"/>
<text transform="translate(216.83,798.91) scale(0.9650,1)" font-size="58" fill="#000">20</text>
<rect x="184.55" y="781.56" width="27.00" height="3.60" fill="#000"/>
<text transform="translate(216.83,920.64) scale(0.9650,1)" font-size="58" fill="#000">30</text>
<rect x="183.86" y="903.29" width="27.00" height="3.60" fill="#000"/>
<text transform="translate(216.83,1042.37) scale(0.9650,1)" font-size="58" fill="#000">40</text>
<rect x="183.02" y="1025.02" width="27.00" height="3.60" fill="#000"/>
<text transform="translate(337.81,1101.00) scale(0.9550,1)" font-size="59" fill="#000">3600</text>
<text transform="translate(517.73,1101.00) scale(0.9550,1)" font-size="59" fill="#000">3400</text>
<text transform="translate(697.65,1101.00) scale(0.9550,1)" font-size="59" fill="#000">3200</text>
<text transform="translate(877.57,1101.00) scale(0.9550,1)" font-size="59" fill="#000">3000</text>
<text transform="translate(1057.15,1101.00) scale(0.9550,1)" font-size="59" fill="#000">2800</text>
<text transform="translate(1237.07,1101.00) scale(0.9550,1)" font-size="59" fill="#000">2600</text>
<text transform="translate(188.44,124.90) scale(0.9628,1)" font-size="138" fill="#000">A</text>
<text transform="translate(551.88,1188.80) scale(1.0052,1)" font-size="72" fill="#000">Wavenumber (cm</text>
<rect x="1112.10" y="1135.00" width="30.50" height="4.20" fill="#000"/>
<text transform="translate(1137.83,1150.30) scale(0.7064,1)" font-size="44" fill="#000">1</text>
<text transform="translate(1165.42,1188.80) scale(0.8958,1)" font-size="72" fill="#000">)</text>
<path d="M77.32,828.22 C76.72,829.08 74.40,831.14 73.71,833.38 C73.02,835.62 73.02,839.23 73.19,841.64 C73.36,844.05 73.79,846.12 74.74,847.84 C75.69,849.56 77.41,851.14 78.87,851.97 C80.34,852.80 82.06,853.14 83.52,852.80 C84.98,852.45 86.62,851.08 87.65,849.90 C88.68,848.73 89.37,846.46 89.72,845.77 M88.68,848.87 C89.29,849.73 90.92,852.49 92.30,854.04 C93.68,855.59 95.40,857.39 96.95,858.17 C98.50,858.94 100.17,859.29 101.59,858.68 C103.02,858.08 104.66,856.36 105.52,854.55 C106.38,852.75 106.81,850.16 106.76,847.84 C106.71,845.52 106.07,842.68 105.21,840.61 C104.35,838.54 102.71,836.65 101.59,835.45 C100.48,834.24 99.01,833.72 98.50,833.38" fill="none" stroke="#000" stroke-width="3.2" stroke-linecap="round" stroke-linejoin="round"/>
<text transform="translate(63.90,833.75) rotate(-90) scale(0.8965,1)" font-size="49.6" fill="#000">E</text>
<text transform="translate(104.80,783.48) rotate(-90) scale(1.0276,1)" font-size="75" fill="#000">(L mol</text>
<rect x="50.20" y="539.00" width="3.20" height="29.90" fill="#000"/>
<text transform="translate(63.90,540.41) rotate(-90) scale(0.5010,1)" font-size="50" fill="#000">1</text>
<text transform="translate(105.00,506.78) rotate(-90) scale(1.0300,1)" font-size="75" fill="#000">cm</text>
<rect x="50.20" y="384.10" width="3.20" height="27.00" fill="#000"/>
<text transform="translate(63.90,386.49) rotate(-90) scale(0.6262,1)" font-size="50" fill="#000">1</text>
<text transform="translate(105.00,356.85) rotate(-90) scale(0.7946,1)" font-size="75" fill="#000">)</text>
<text transform="translate(420.50,428.90) rotate(-90) scale(0.9698,1)" font-size="54" font-weight="bold" fill="#0000FF">3540 cm</text>
<rect x="393.50" y="201.40" width="2.50" height="22.00" fill="#0000FF"/>
<text transform="translate(404.20,205.37) rotate(-90) scale(0.7231,1)" font-size="34" fill="#0000FF">1</text>
<text transform="translate(604.70,428.90) rotate(-90) scale(0.9694,1)" font-size="54" font-weight="bold" fill="#FF0000">3470 cm</text>
<rect x="577.80" y="201.50" width="2.50" height="22.00" fill="#FF0000"/>
<text transform="translate(588.50,205.47) rotate(-90) scale(0.7231,1)" font-size="34" fill="#FF0000">1</text>
<text transform="translate(760.10,429.09) rotate(-90) scale(0.9641,1)" font-size="54" font-weight="bold" fill="#FF3DB5">3130 cm</text>
<rect x="732.50" y="202.80" width="2.50" height="22.00" fill="#FF3DB5"/>
<text transform="translate(743.20,206.77) rotate(-90) scale(0.7231,1)" font-size="34" fill="#FF3DB5">1</text>
<text transform="translate(1063.60,431.61) rotate(-90) scale(0.9689,1)" font-size="54" font-weight="bold" fill="#C04600">2770 cm</text>
<rect x="1035.60" y="204.30" width="2.50" height="22.00" fill="#C04600"/>
<text transform="translate(1046.30,208.27) rotate(-90) scale(0.7231,1)" font-size="34" fill="#C04600">1</text>
<text stroke="#fff" stroke-width="1.1" transform="translate(583.80,983.20) rotate(-90) scale(0.9708,1)" font-size="54" font-weight="bold" fill="#008A00">3340 cm</text>
<rect x="559.40" y="755.50" width="2.50" height="22.00" fill="#008A00"/>
<text transform="translate(570.10,759.47) rotate(-90) scale(0.7231,1)" font-size="34" fill="#008A00">1</text>
<text stroke="#fff" stroke-width="1.1" transform="translate(767.00,980.90) rotate(-90) scale(0.9708,1)" font-size="54" font-weight="bold" fill="#FF8800">3230 cm</text>
<rect x="739.80" y="753.20" width="2.50" height="22.00" fill="#FF8800"/>
<text transform="translate(750.50,757.17) rotate(-90) scale(0.7231,1)" font-size="34" fill="#FF8800">1</text>
<rect x="919.00" y="889.70" width="95.20" height="6.20" fill="#000"/>
<line x1="919.4" y1="943.1" x2="1012.5" y2="943.1" stroke="#FF0000" stroke-width="3.6" stroke-dasharray="16,13"/>
<text transform="translate(1021.59,905.70) scale(1.1034,1)" font-size="36.5" fill="#000">excess spectrum</text>
<text transform="translate(1021.60,955.40) scale(1.1079,1)" font-size="36.5" fill="#000">generated spectrum</text>
<text transform="translate(921.63,1004.20) scale(1.0997,1)" font-size="36.5" fill="#000">fitted peaks are colored</text>
<rect x="304.10" y="1254.90" width="5.10" height="900.60" fill="#000"/>
<rect x="309.20" y="1260.00" width="2.60" height="873.80" fill="#999"/>
<rect x="288.00" y="1254.90" width="1105.00" height="5.10" fill="#000"/>
<rect x="1384.50" y="1254.90" width="8.50" height="884.00" fill="#000"/>
<rect x="304.10" y="2133.80" width="1088.90" height="5.10" fill="#000"/>
<rect x="288.00" y="1384.88" width="16.10" height="5.40" fill="#000"/>
<rect x="288.00" y="1514.96" width="16.10" height="5.40" fill="#000"/>
<rect x="288.00" y="1645.04" width="16.10" height="5.40" fill="#000"/>
<rect x="288.00" y="1775.12" width="16.10" height="5.40" fill="#000"/>
<rect x="288.00" y="1905.20" width="16.10" height="5.40" fill="#000"/>
<rect x="288.00" y="2035.28" width="16.10" height="5.40" fill="#000"/>
<rect x="295.80" y="1319.84" width="8.30" height="5.40" fill="#000"/>
<rect x="295.80" y="1449.92" width="8.30" height="5.40" fill="#000"/>
<rect x="295.80" y="1580.00" width="8.30" height="5.40" fill="#000"/>
<rect x="295.80" y="1710.08" width="8.30" height="5.40" fill="#000"/>
<rect x="295.80" y="1840.16" width="8.30" height="5.40" fill="#000"/>
<rect x="295.80" y="1970.24" width="8.30" height="5.40" fill="#000"/>
<rect x="295.80" y="2100.32" width="8.30" height="5.40" fill="#000"/>
<rect x="544.12" y="2138.90" width="7.00" height="16.60" fill="#000"/>
<rect x="784.24" y="2138.90" width="7.00" height="16.60" fill="#000"/>
<rect x="1024.36" y="2138.90" width="7.00" height="16.60" fill="#000"/>
<rect x="1264.48" y="2138.90" width="7.00" height="16.60" fill="#000"/>
<rect x="424.06" y="2138.90" width="7.00" height="7.60" fill="#000"/>
<rect x="664.18" y="2138.90" width="7.00" height="7.60" fill="#000"/>
<rect x="904.30" y="2138.90" width="7.00" height="7.60" fill="#000"/>
<rect x="1144.42" y="2138.90" width="7.00" height="7.60" fill="#000"/>
<rect x="1384.54" y="2138.90" width="7.00" height="7.60" fill="#000"/>
<text transform="translate(164.06,1271.69) scale(0.9850,1)" font-size="52" fill="#000">2600</text>
<text transform="translate(164.06,1401.77) scale(0.9850,1)" font-size="52" fill="#000">2800</text>
<text transform="translate(164.06,1531.85) scale(0.9850,1)" font-size="52" fill="#000">3000</text>
<text transform="translate(164.06,1661.93) scale(0.9850,1)" font-size="52" fill="#000">3200</text>
<text transform="translate(164.06,1792.01) scale(0.9850,1)" font-size="52" fill="#000">3400</text>
<text transform="translate(164.06,1922.09) scale(0.9850,1)" font-size="52" fill="#000">3600</text>
<text transform="translate(164.06,2052.17) scale(0.9850,1)" font-size="52" fill="#000">3800</text>
<text transform="translate(251.36,2203.50) scale(0.9900,1)" font-size="51" fill="#000">3600</text>
<text transform="translate(491.48,2203.50) scale(0.9900,1)" font-size="51" fill="#000">3400</text>
<text transform="translate(731.60,2203.50) scale(0.9900,1)" font-size="51" fill="#000">3200</text>
<text transform="translate(971.72,2203.50) scale(0.9900,1)" font-size="51" fill="#000">3000</text>
<text transform="translate(1211.54,2203.50) scale(0.9900,1)" font-size="51" fill="#000">2800</text>
<path d="M379.00,2036.00 L386.07,2057.77 L408.96,2057.77 L390.44,2071.22 L397.52,2092.98 L379.00,2079.53 L360.48,2092.98 L367.56,2071.22 L349.04,2057.77 L371.93,2057.77 Z" fill="#0000FF"/>
<circle cx="379.00" cy="2054.50" r="21.7" fill="#fff" stroke="#0000FF" stroke-width="2.6"/>
<path d="M462.20,1934.80 L469.27,1956.57 L492.16,1956.57 L473.64,1970.02 L480.72,1991.78 L462.20,1978.33 L443.68,1991.78 L450.76,1970.02 L432.24,1956.57 L455.13,1956.57 Z" fill="#FF0000"/>
<circle cx="462.70" cy="1904.70" r="21.7" fill="#fff" stroke="#FF0000" stroke-width="2.6"/>
<path d="M619.30,1861.90 L626.37,1883.67 L649.26,1883.67 L630.74,1897.12 L637.82,1918.88 L619.30,1905.43 L600.78,1918.88 L607.86,1897.12 L589.34,1883.67 L612.23,1883.67 Z" fill="#008000"/>
<circle cx="619.80" cy="1881.70" r="21.7" fill="#fff" stroke="#008000" stroke-width="2.6"/>
<path d="M750.10,1747.10 L757.17,1768.87 L780.06,1768.87 L761.54,1782.32 L768.62,1804.08 L750.10,1790.63 L731.58,1804.08 L738.66,1782.32 L720.14,1768.87 L743.03,1768.87 Z" fill="#FF8000"/>
<circle cx="750.90" cy="1766.20" r="21.7" fill="#fff" stroke="#FF8000" stroke-width="2.6"/>
<path d="M871.30,1734.40 L878.37,1756.17 L901.26,1756.17 L882.74,1769.62 L889.82,1791.38 L871.30,1777.93 L852.78,1791.38 L859.86,1769.62 L841.34,1756.17 L864.23,1756.17 Z" fill="#FF1493"/>
<circle cx="872.00" cy="1761.80" r="21.7" fill="#fff" stroke="#FF00FF" stroke-width="2.6"/>
<path d="M1304.40,1402.90 L1311.70,1425.36 L1335.31,1425.36 L1316.21,1439.24 L1323.50,1461.69 L1304.40,1447.82 L1285.30,1461.69 L1292.59,1439.24 L1273.49,1425.36 L1297.10,1425.36 Z" fill="#990000"/>
<circle cx="1304.00" cy="1596.20" r="21.7" fill="#fff" stroke="#990000" stroke-width="2.6"/>
<line x1="376.7" y1="2021.0" x2="1304.0" y2="1441.0" stroke="#000" stroke-width="3.4" stroke-dasharray="16,12"/>
<line x1="372.8" y1="2005.8" x2="1307.4" y2="1537.3" stroke="#000" stroke-width="3.4" stroke-dasharray="4.5,5"/>
<text stroke="#fff" stroke-width="0.9" transform="translate(396.20,1969.49) rotate(-90) scale(0.9759,1)" font-size="55" font-weight="bold" fill="#0000FF">structure B</text>
<text stroke="#fff" stroke-width="0.9" transform="translate(477.50,1863.95) rotate(-90) scale(0.9534,1)" font-size="55" font-weight="bold" fill="#FF0000">complex C</text>
<text stroke="#fff" stroke-width="0.9" transform="translate(632.80,1835.26) rotate(-90) scale(0.9599,1)" font-size="55" font-weight="bold" fill="#008A00">complex D</text>
<text stroke="#fff" stroke-width="0.9" transform="translate(763.50,1718.75) rotate(-90) scale(0.9538,1)" font-size="55" font-weight="bold" fill="#FF8800">complex E</text>
<text stroke="#fff" stroke-width="0.9" transform="translate(889.10,1681.54) rotate(-90) scale(0.9494,1)" font-size="55" font-weight="bold" fill="#FF3DB5">complex H</text>
<text stroke="#fff" stroke-width="0.9" transform="translate(1324.60,1894.44) rotate(-90) scale(0.9479,1)" font-size="55" font-weight="bold" fill="#C04600">complex L</text>
<path d="M894.70,2009.50 L900.02,2025.88 L917.24,2025.88 L903.31,2036.00 L908.63,2052.37 L894.70,2042.25 L880.77,2052.37 L886.09,2036.00 L872.16,2025.88 L889.38,2025.88 Z" fill="#000"/>
<circle cx="894.6" cy="2096.5" r="19.8" fill="#000"/>
<text transform="translate(931.16,2043.70) scale(1.0152,1)" font-size="40" fill="#000">Gas phase (R</text>
<text transform="translate(1182.02,2021.40) scale(1.0924,1)" font-size="21.5" fill="#000">2</text>
<text transform="translate(1195.05,2043.70) scale(0.9973,1)" font-size="40" fill="#000">=0.99)</text>
<text transform="translate(933.87,2108.70) scale(1.0065,1)" font-size="40" fill="#000">Solvent effect (R</text>
<text transform="translate(1231.82,2086.40) scale(1.0924,1)" font-size="21.5" fill="#000">2</text>
<text transform="translate(1246.21,2108.70) scale(1.0200,1)" font-size="40" fill="#000">=0.92)</text>
<text transform="translate(454.92,2297.00) scale(0.9653,1)" font-size="73" fill="#000">Exp. Wavenumber (cm</text>
<rect x="1158.50" y="2243.00" width="27.50" height="4.20" fill="#000"/>
<text transform="translate(1186.59,2257.90) scale(0.7411,1)" font-size="41" fill="#000">1</text>
<text transform="translate(1209.12,2297.00) scale(1.0000,1)" font-size="73" fill="#000">)</text>
<text transform="translate(104.80,2058.19) rotate(-90) scale(0.9977,1)" font-size="63" fill="#000">Cal. Wavenumber (cm</text>
<rect x="58.60" y="1417.90" width="2.90" height="22.10" fill="#000"/>
<text transform="translate(69.40,1416.94) rotate(-90) scale(0.6107,1)" font-size="39.5" fill="#000">1</text>
<text transform="translate(104.80,1393.80) rotate(-90) scale(0.8142,1)" font-size="63" fill="#000">)</text>
<text transform="translate(199.56,1222.00) scale(1.0021,1)" font-size="138" fill="#000">B</text>
<rect x="306.20" y="2370.80" width="8.40" height="864.80" fill="#000"/>
<rect x="314.60" y="2368.30" width="1078.40" height="2.50" fill="#888"/>
<rect x="298.10" y="2370.80" width="1094.90" height="5.10" fill="#000"/>
<rect x="1387.30" y="2370.80" width="5.70" height="872.20" fill="#000"/>
<rect x="298.10" y="3222.20" width="1094.90" height="5.40" fill="#000"/>
<rect x="314.60" y="2675.60" width="1072.70" height="2.60" fill="#000"/>
<rect x="290.10" y="2430.47" width="16.10" height="5.60" fill="#000"/>
<rect x="290.10" y="2552.23" width="16.10" height="5.60" fill="#000"/>
<rect x="290.10" y="2674.00" width="16.10" height="5.60" fill="#000"/>
<rect x="290.10" y="2795.77" width="16.10" height="5.60" fill="#000"/>
<rect x="290.10" y="2917.53" width="16.10" height="5.60" fill="#000"/>
<rect x="290.10" y="3039.30" width="16.10" height="5.60" fill="#000"/>
<rect x="290.10" y="3161.06" width="16.10" height="5.60" fill="#000"/>
<rect x="298.60" y="2491.35" width="7.60" height="5.60" fill="#000"/>
<rect x="298.60" y="2613.12" width="7.60" height="5.60" fill="#000"/>
<rect x="298.60" y="2734.88" width="7.60" height="5.60" fill="#000"/>
<rect x="298.60" y="2856.65" width="7.60" height="5.60" fill="#000"/>
<rect x="298.60" y="2978.41" width="7.60" height="5.60" fill="#000"/>
<rect x="298.60" y="3100.18" width="7.60" height="5.60" fill="#000"/>
<rect x="389.50" y="3227.60" width="7.00" height="15.40" fill="#000"/>
<rect x="555.50" y="3227.60" width="7.00" height="15.40" fill="#000"/>
<rect x="721.50" y="3227.60" width="7.00" height="15.40" fill="#000"/>
<rect x="887.50" y="3227.60" width="7.00" height="15.40" fill="#000"/>
<rect x="1053.50" y="3227.60" width="7.00" height="15.40" fill="#000"/>
<rect x="1219.50" y="3227.60" width="7.00" height="15.40" fill="#000"/>
<rect x="472.50" y="3227.60" width="7.00" height="8.00" fill="#000"/>
<rect x="638.50" y="3227.60" width="7.00" height="8.00" fill="#000"/>
<rect x="804.50" y="3227.60" width="7.00" height="8.00" fill="#000"/>
<rect x="970.50" y="3227.60" width="7.00" height="8.00" fill="#000"/>
<rect x="1136.50" y="3227.60" width="7.00" height="8.00" fill="#000"/>
<rect x="1302.50" y="3227.60" width="7.00" height="8.00" fill="#000"/>
<text transform="translate(152.39,2448.65) scale(0.9900,1)" font-size="57.5" fill="#000">4000</text>
<text transform="translate(152.39,2570.41) scale(0.9900,1)" font-size="57.5" fill="#000">2000</text>
<text transform="translate(247.36,2692.18) scale(0.9900,1)" font-size="57.5" fill="#000">0</text>
<text transform="translate(152.39,2813.95) scale(0.9900,1)" font-size="57.5" fill="#000">2000</text>
<rect x="129.05" y="2798.17" width="22.00" height="5.00" fill="#000"/>
<text transform="translate(152.39,2935.71) scale(0.9900,1)" font-size="57.5" fill="#000">4000</text>
<rect x="127.49" y="2919.93" width="22.00" height="5.00" fill="#000"/>
<text transform="translate(152.39,3057.48) scale(0.9900,1)" font-size="57.5" fill="#000">6000</text>
<rect x="129.08" y="3041.70" width="22.00" height="5.00" fill="#000"/>
<text transform="translate(152.39,3179.24) scale(0.9900,1)" font-size="57.5" fill="#000">8000</text>
<rect x="128.66" y="3163.46" width="22.00" height="5.00" fill="#000"/>
<text transform="translate(339.18,3298.00) scale(1.0000,1)" font-size="54" fill="#000">1:14</text>
<text transform="translate(505.75,3298.00) scale(1.0000,1)" font-size="54" fill="#000">1:12</text>
<text transform="translate(671.45,3298.00) scale(1.0000,1)" font-size="54" fill="#000">1:10</text>
<text transform="translate(852.58,3298.00) scale(1.0000,1)" font-size="54" fill="#000">1:8</text>
<text transform="translate(1018.60,3298.00) scale(1.0000,1)" font-size="54" fill="#000">1:6</text>
<text transform="translate(1184.20,3298.00) scale(1.0000,1)" font-size="54" fill="#000">1:4</text>
<path d="M393.00,2855.10 L476.00,3074.80 L559.00,3074.80 L642.00,3119.00 L725.00,3142.40 L808.00,3137.60 L891.00,3150.80 L974.00,3158.70 L1057.00,3111.30 L1140.00,3098.20 L1223.00,3092.90 L1306.00,3008.80" fill="none" stroke="#008000" stroke-width="2.7"/>
<circle cx="393.00" cy="2855.10" r="17.9" fill="#008000"/>
<circle cx="476.00" cy="3074.80" r="17.9" fill="#008000"/>
<circle cx="559.00" cy="3074.80" r="17.9" fill="#008000"/>
<circle cx="642.00" cy="3119.00" r="17.9" fill="#008000"/>
<circle cx="725.00" cy="3142.40" r="17.9" fill="#008000"/>
<circle cx="808.00" cy="3137.60" r="17.9" fill="#008000"/>
<circle cx="891.00" cy="3150.80" r="17.9" fill="#008000"/>
<circle cx="974.00" cy="3158.70" r="17.9" fill="#008000"/>
<circle cx="1057.00" cy="3111.30" r="17.9" fill="#008000"/>
<circle cx="1140.00" cy="3098.20" r="17.9" fill="#008000"/>
<circle cx="1223.00" cy="3092.90" r="17.9" fill="#008000"/>
<circle cx="1306.00" cy="3008.80" r="17.9" fill="#008000"/>
<path d="M393.00,2793.10 L476.00,2854.20 L559.00,2895.00 L642.00,2911.50 L725.00,2929.30 L808.00,2933.30 L891.00,2919.40 L974.00,2927.30 L1057.00,2935.20 L1140.00,2909.10 L1223.00,2924.80 L1306.00,2857.20" fill="none" stroke="#FF8800" stroke-width="2.7"/>
<circle cx="393.00" cy="2793.10" r="17.9" fill="#FF8800"/>
<circle cx="476.00" cy="2854.20" r="17.9" fill="#FF8800"/>
<circle cx="559.00" cy="2895.00" r="17.9" fill="#FF8800"/>
<circle cx="642.00" cy="2911.50" r="17.9" fill="#FF8800"/>
<circle cx="725.00" cy="2929.30" r="17.9" fill="#FF8800"/>
<circle cx="808.00" cy="2933.30" r="17.9" fill="#FF8800"/>
<circle cx="891.00" cy="2919.40" r="17.9" fill="#FF8800"/>
<circle cx="974.00" cy="2927.30" r="17.9" fill="#FF8800"/>
<circle cx="1057.00" cy="2935.20" r="17.9" fill="#FF8800"/>
<circle cx="1140.00" cy="2909.10" r="17.9" fill="#FF8800"/>
<circle cx="1223.00" cy="2924.80" r="17.9" fill="#FF8800"/>
<circle cx="1306.00" cy="2857.20" r="17.9" fill="#FF8800"/>
<path d="M393.00,2593.60 L476.00,2593.60 L559.00,2612.40 L642.00,2601.60 L725.00,2601.60 L808.00,2598.20 L891.00,2598.20 L974.00,2590.30 L1057.00,2596.60 L1140.00,2592.90 L1223.00,2591.40 L1306.00,2579.80" fill="none" stroke="#0000FF" stroke-width="2.7"/>
<circle cx="393.00" cy="2593.60" r="17.9" fill="#0000FF"/>
<circle cx="476.00" cy="2593.60" r="17.9" fill="#0000FF"/>
<circle cx="559.00" cy="2612.40" r="17.9" fill="#0000FF"/>
<circle cx="642.00" cy="2601.60" r="17.9" fill="#0000FF"/>
<circle cx="725.00" cy="2601.60" r="17.9" fill="#0000FF"/>
<circle cx="808.00" cy="2598.20" r="17.9" fill="#0000FF"/>
<circle cx="891.00" cy="2598.20" r="17.9" fill="#0000FF"/>
<circle cx="974.00" cy="2590.30" r="17.9" fill="#0000FF"/>
<circle cx="1057.00" cy="2596.60" r="17.9" fill="#0000FF"/>
<circle cx="1140.00" cy="2592.90" r="17.9" fill="#0000FF"/>
<circle cx="1223.00" cy="2591.40" r="17.9" fill="#0000FF"/>
<circle cx="1306.00" cy="2579.80" r="17.9" fill="#0000FF"/>
<path d="M393.00,2565.40 L476.00,2562.20 L559.00,2544.30 L642.00,2542.00 L725.00,2544.30 L808.00,2547.00 L891.00,2559.80 L974.00,2544.00 L1057.00,2548.20 L1140.00,2535.10 L1223.00,2545.60 L1306.00,2533.50" fill="none" stroke="#FF0000" stroke-width="2.7"/>
<circle cx="393.00" cy="2565.40" r="17.9" fill="#FF0000"/>
<circle cx="476.00" cy="2562.20" r="17.9" fill="#FF0000"/>
<circle cx="559.00" cy="2544.30" r="17.9" fill="#FF0000"/>
<circle cx="642.00" cy="2542.00" r="17.9" fill="#FF0000"/>
<circle cx="725.00" cy="2544.30" r="17.9" fill="#FF0000"/>
<circle cx="808.00" cy="2547.00" r="17.9" fill="#FF0000"/>
<circle cx="891.00" cy="2559.80" r="17.9" fill="#FF0000"/>
<circle cx="974.00" cy="2544.00" r="17.9" fill="#FF0000"/>
<circle cx="1057.00" cy="2548.20" r="17.9" fill="#FF0000"/>
<circle cx="1140.00" cy="2535.10" r="17.9" fill="#FF0000"/>
<circle cx="1223.00" cy="2545.60" r="17.9" fill="#FF0000"/>
<circle cx="1306.00" cy="2533.50" r="17.9" fill="#FF0000"/>
<path d="M393.00,2581.90 L476.00,2582.80 L559.00,2539.60 L642.00,2543.40 L725.00,2520.80 L808.00,2518.20 L891.00,2524.60 L974.00,2499.90 L1057.00,2489.40 L1140.00,2491.50 L1223.00,2491.50 L1306.00,2480.90" fill="none" stroke="#FF00FF" stroke-width="2.7"/>
<circle cx="393.00" cy="2581.90" r="17.9" fill="#FF00FF"/>
<circle cx="476.00" cy="2582.80" r="17.9" fill="#FF00FF"/>
<circle cx="559.00" cy="2539.60" r="17.9" fill="#FF00FF"/>
<circle cx="642.00" cy="2543.40" r="17.9" fill="#FF00FF"/>
<circle cx="725.00" cy="2520.80" r="17.9" fill="#FF00FF"/>
<circle cx="808.00" cy="2518.20" r="17.9" fill="#FF00FF"/>
<circle cx="891.00" cy="2524.60" r="17.9" fill="#FF00FF"/>
<circle cx="974.00" cy="2499.90" r="17.9" fill="#FF00FF"/>
<circle cx="1057.00" cy="2489.40" r="17.9" fill="#FF00FF"/>
<circle cx="1140.00" cy="2491.50" r="17.9" fill="#FF00FF"/>
<circle cx="1223.00" cy="2491.50" r="17.9" fill="#FF00FF"/>
<circle cx="1306.00" cy="2480.90" r="17.9" fill="#FF00FF"/>
<path d="M393.00,2551.40 L476.00,2534.00 L559.00,2513.80 L642.00,2495.00 L725.00,2470.10 L808.00,2477.90 L891.00,2464.10 L974.00,2421.00 L1057.00,2431.50 L1140.00,2405.20 L1223.00,2407.30 L1306.00,2412.60" fill="none" stroke="#990000" stroke-width="2.7"/>
<circle cx="393.00" cy="2551.40" r="17.9" fill="#990000"/>
<circle cx="476.00" cy="2534.00" r="17.9" fill="#990000"/>
<circle cx="559.00" cy="2513.80" r="17.9" fill="#990000"/>
<circle cx="642.00" cy="2495.00" r="17.9" fill="#990000"/>
<circle cx="725.00" cy="2470.10" r="17.9" fill="#990000"/>
<circle cx="808.00" cy="2477.90" r="17.9" fill="#990000"/>
<circle cx="891.00" cy="2464.10" r="17.9" fill="#990000"/>
<circle cx="974.00" cy="2421.00" r="17.9" fill="#990000"/>
<circle cx="1057.00" cy="2431.50" r="17.9" fill="#990000"/>
<circle cx="1140.00" cy="2405.20" r="17.9" fill="#990000"/>
<circle cx="1223.00" cy="2407.30" r="17.9" fill="#990000"/>
<circle cx="1306.00" cy="2412.60" r="17.9" fill="#990000"/>
<line x1="469.4" y1="2707.0" x2="553.9" y2="2707.0" stroke="#0000FF" stroke-width="3"/>
<circle cx="510.7" cy="2707.0" r="15.5" fill="#0000FF"/>
<text transform="translate(565.10,2719.40) scale(1.0381,1)" font-size="52" font-weight="bold" fill="#0000FF">structure B</text>
<line x1="469.4" y1="2758.9" x2="553.9" y2="2758.9" stroke="#FF0000" stroke-width="3"/>
<circle cx="510.7" cy="2758.9" r="15.5" fill="#FF0000"/>
<text transform="translate(563.16,2770.10) scale(1.0057,1)" font-size="52" font-weight="bold" fill="#FF0000">complex C</text>
<line x1="469.4" y1="2809.6" x2="553.9" y2="2809.6" stroke="#008000" stroke-width="3"/>
<circle cx="510.7" cy="2809.6" r="15.5" fill="#008000"/>
<text transform="translate(563.15,2816.00) scale(1.0087,1)" font-size="52" font-weight="bold" fill="#008A00">complex D</text>
<line x1="890.4" y1="2705.8" x2="974.0" y2="2705.8" stroke="#FF8800" stroke-width="3"/>
<circle cx="930.9" cy="2705.8" r="15.5" fill="#FF8800"/>
<text transform="translate(985.45,2722.00) scale(1.0104,1)" font-size="52" font-weight="bold" fill="#FF8800">complex E</text>
<line x1="890.4" y1="2759.7" x2="974.0" y2="2759.7" stroke="#FF00FF" stroke-width="3"/>
<circle cx="930.9" cy="2759.7" r="15.5" fill="#FF00FF"/>
<text transform="translate(985.46,2770.50) scale(1.0049,1)" font-size="52" font-weight="bold" fill="#FF3DB5">complex H</text>
<line x1="890.4" y1="2809.3" x2="974.0" y2="2809.3" stroke="#990000" stroke-width="3"/>
<circle cx="930.9" cy="2809.3" r="15.5" fill="#990000"/>
<text transform="translate(987.99,2814.70) scale(0.9892,1)" font-size="52" font-weight="bold" fill="#C04600">complex L</text>
<text transform="translate(663.53,3376.80) scale(0.9682,1)" font-size="74" fill="#000">ZnCl</text>
<text transform="translate(814.31,3406.50) scale(1.0097,1)" font-size="45" fill="#000">2</text>
<text transform="translate(839.06,3376.80) scale(0.9831,1)" font-size="74" fill="#000">:EtOH</text>
<text transform="translate(190.87,2347.10) scale(0.9670,1)" font-size="137" fill="#000">C</text>
<path d="M74.54,2975.47 C73.99,2976.25 71.83,2978.12 71.20,2980.16 C70.56,2982.19 70.56,2985.47 70.72,2987.66 C70.88,2989.84 71.28,2991.72 72.15,2993.28 C73.03,2994.84 74.62,2996.28 75.98,2997.03 C77.33,2997.78 78.93,2998.09 80.28,2997.78 C81.64,2997.47 83.15,2996.22 84.11,2995.16 C85.06,2994.09 85.70,2992.03 86.02,2991.41 M85.06,2994.22 C85.62,2995.00 87.14,2997.50 88.41,2998.91 C89.69,3000.31 91.28,3001.95 92.71,3002.66 C94.15,3003.36 95.69,3003.67 97.02,3003.12 C98.34,3002.58 99.85,3001.01 100.65,2999.37 C101.45,2997.73 101.85,2995.39 101.80,2993.28 C101.75,2991.17 101.16,2988.59 100.36,2986.72 C99.57,2984.84 98.05,2983.12 97.02,2982.03 C95.98,2980.94 94.63,2980.47 94.15,2980.16" fill="none" stroke="#000" stroke-width="3.2" stroke-linecap="round" stroke-linejoin="round"/>
<text transform="translate(129.70,2981.39) rotate(-90) scale(0.8944,1)" font-size="45" fill="#000">d</text>
<text transform="translate(100.80,2957.32) rotate(-90) scale(0.9844,1)" font-size="74" fill="#000">(L mol</text>
<rect x="47.20" y="2729.90" width="3.00" height="21.10" fill="#000"/>
<text transform="translate(61.30,2728.73) rotate(-90) scale(0.5379,1)" font-size="47" fill="#000">1</text>
<text transform="translate(100.30,2696.80) rotate(-90) scale(0.9854,1)" font-size="74" fill="#000">cm</text>
<rect x="46.80" y="2585.80" width="3.00" height="21.20" fill="#000"/>
<text transform="translate(61.30,2581.44) rotate(-90) scale(0.5132,1)" font-size="47" fill="#000">1</text>
<text transform="translate(100.30,2555.65) rotate(-90) scale(0.8155,1)" font-size="74" fill="#000">)</text>
</svg>
</body></html>
